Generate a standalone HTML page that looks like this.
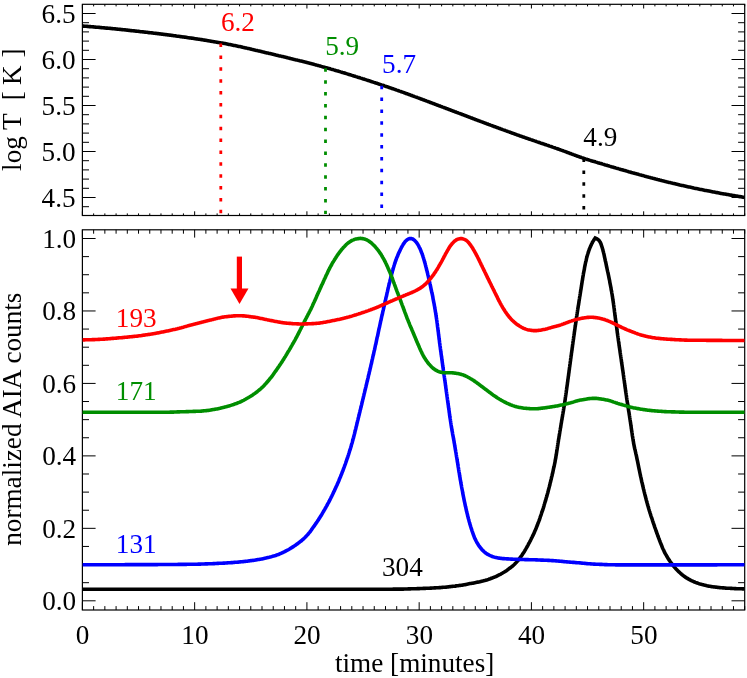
<!DOCTYPE html>
<html><head><meta charset="utf-8"><title>AIA light curves</title>
<style>
html,body{margin:0;padding:0;background:#fff;overflow:hidden;}
svg{display:block;font-family:"Liberation Serif",serif;font-size:27.2px;}
</style></head>
<body>
<svg width="747" height="678" viewBox="0 0 747 678">
<rect width="747" height="678" fill="#fff"/>
<rect x="82.4" y="4.3" width="662.3" height="211.2" fill="none" stroke="#000" stroke-width="1.2"/>
<rect x="82.4" y="229.8" width="662.3" height="380.2" fill="none" stroke="#000" stroke-width="1.2"/>
<path d="M82.40,215.5 v-4.2 M82.40,4.3 v4.2 M82.40,610.0 v-7.8 M82.40,229.8 v7.8 M93.63,215.5 v-2.1 M93.63,4.3 v2.1 M93.63,610.0 v-3.9 M93.63,229.8 v3.9 M104.85,215.5 v-2.1 M104.85,4.3 v2.1 M104.85,610.0 v-3.9 M104.85,229.8 v3.9 M116.08,215.5 v-2.1 M116.08,4.3 v2.1 M116.08,610.0 v-3.9 M116.08,229.8 v3.9 M127.30,215.5 v-2.1 M127.30,4.3 v2.1 M127.30,610.0 v-3.9 M127.30,229.8 v3.9 M138.53,215.5 v-2.1 M138.53,4.3 v2.1 M138.53,610.0 v-3.9 M138.53,229.8 v3.9 M149.75,215.5 v-2.1 M149.75,4.3 v2.1 M149.75,610.0 v-3.9 M149.75,229.8 v3.9 M160.98,215.5 v-2.1 M160.98,4.3 v2.1 M160.98,610.0 v-3.9 M160.98,229.8 v3.9 M172.20,215.5 v-2.1 M172.20,4.3 v2.1 M172.20,610.0 v-3.9 M172.20,229.8 v3.9 M183.43,215.5 v-2.1 M183.43,4.3 v2.1 M183.43,610.0 v-3.9 M183.43,229.8 v3.9 M194.65,215.5 v-4.2 M194.65,4.3 v4.2 M194.65,610.0 v-7.8 M194.65,229.8 v7.8 M205.88,215.5 v-2.1 M205.88,4.3 v2.1 M205.88,610.0 v-3.9 M205.88,229.8 v3.9 M217.11,215.5 v-2.1 M217.11,4.3 v2.1 M217.11,610.0 v-3.9 M217.11,229.8 v3.9 M228.33,215.5 v-2.1 M228.33,4.3 v2.1 M228.33,610.0 v-3.9 M228.33,229.8 v3.9 M239.56,215.5 v-2.1 M239.56,4.3 v2.1 M239.56,610.0 v-3.9 M239.56,229.8 v3.9 M250.78,215.5 v-2.1 M250.78,4.3 v2.1 M250.78,610.0 v-3.9 M250.78,229.8 v3.9 M262.01,215.5 v-2.1 M262.01,4.3 v2.1 M262.01,610.0 v-3.9 M262.01,229.8 v3.9 M273.23,215.5 v-2.1 M273.23,4.3 v2.1 M273.23,610.0 v-3.9 M273.23,229.8 v3.9 M284.46,215.5 v-2.1 M284.46,4.3 v2.1 M284.46,610.0 v-3.9 M284.46,229.8 v3.9 M295.68,215.5 v-2.1 M295.68,4.3 v2.1 M295.68,610.0 v-3.9 M295.68,229.8 v3.9 M306.91,215.5 v-4.2 M306.91,4.3 v4.2 M306.91,610.0 v-7.8 M306.91,229.8 v7.8 M318.13,215.5 v-2.1 M318.13,4.3 v2.1 M318.13,610.0 v-3.9 M318.13,229.8 v3.9 M329.36,215.5 v-2.1 M329.36,4.3 v2.1 M329.36,610.0 v-3.9 M329.36,229.8 v3.9 M340.58,215.5 v-2.1 M340.58,4.3 v2.1 M340.58,610.0 v-3.9 M340.58,229.8 v3.9 M351.81,215.5 v-2.1 M351.81,4.3 v2.1 M351.81,610.0 v-3.9 M351.81,229.8 v3.9 M363.04,215.5 v-2.1 M363.04,4.3 v2.1 M363.04,610.0 v-3.9 M363.04,229.8 v3.9 M374.26,215.5 v-2.1 M374.26,4.3 v2.1 M374.26,610.0 v-3.9 M374.26,229.8 v3.9 M385.49,215.5 v-2.1 M385.49,4.3 v2.1 M385.49,610.0 v-3.9 M385.49,229.8 v3.9 M396.71,215.5 v-2.1 M396.71,4.3 v2.1 M396.71,610.0 v-3.9 M396.71,229.8 v3.9 M407.94,215.5 v-2.1 M407.94,4.3 v2.1 M407.94,610.0 v-3.9 M407.94,229.8 v3.9 M419.16,215.5 v-4.2 M419.16,4.3 v4.2 M419.16,610.0 v-7.8 M419.16,229.8 v7.8 M430.39,215.5 v-2.1 M430.39,4.3 v2.1 M430.39,610.0 v-3.9 M430.39,229.8 v3.9 M441.61,215.5 v-2.1 M441.61,4.3 v2.1 M441.61,610.0 v-3.9 M441.61,229.8 v3.9 M452.84,215.5 v-2.1 M452.84,4.3 v2.1 M452.84,610.0 v-3.9 M452.84,229.8 v3.9 M464.06,215.5 v-2.1 M464.06,4.3 v2.1 M464.06,610.0 v-3.9 M464.06,229.8 v3.9 M475.29,215.5 v-2.1 M475.29,4.3 v2.1 M475.29,610.0 v-3.9 M475.29,229.8 v3.9 M486.52,215.5 v-2.1 M486.52,4.3 v2.1 M486.52,610.0 v-3.9 M486.52,229.8 v3.9 M497.74,215.5 v-2.1 M497.74,4.3 v2.1 M497.74,610.0 v-3.9 M497.74,229.8 v3.9 M508.97,215.5 v-2.1 M508.97,4.3 v2.1 M508.97,610.0 v-3.9 M508.97,229.8 v3.9 M520.19,215.5 v-2.1 M520.19,4.3 v2.1 M520.19,610.0 v-3.9 M520.19,229.8 v3.9 M531.42,215.5 v-4.2 M531.42,4.3 v4.2 M531.42,610.0 v-7.8 M531.42,229.8 v7.8 M542.64,215.5 v-2.1 M542.64,4.3 v2.1 M542.64,610.0 v-3.9 M542.64,229.8 v3.9 M553.87,215.5 v-2.1 M553.87,4.3 v2.1 M553.87,610.0 v-3.9 M553.87,229.8 v3.9 M565.09,215.5 v-2.1 M565.09,4.3 v2.1 M565.09,610.0 v-3.9 M565.09,229.8 v3.9 M576.32,215.5 v-2.1 M576.32,4.3 v2.1 M576.32,610.0 v-3.9 M576.32,229.8 v3.9 M587.54,215.5 v-2.1 M587.54,4.3 v2.1 M587.54,610.0 v-3.9 M587.54,229.8 v3.9 M598.77,215.5 v-2.1 M598.77,4.3 v2.1 M598.77,610.0 v-3.9 M598.77,229.8 v3.9 M609.99,215.5 v-2.1 M609.99,4.3 v2.1 M609.99,610.0 v-3.9 M609.99,229.8 v3.9 M621.22,215.5 v-2.1 M621.22,4.3 v2.1 M621.22,610.0 v-3.9 M621.22,229.8 v3.9 M632.45,215.5 v-2.1 M632.45,4.3 v2.1 M632.45,610.0 v-3.9 M632.45,229.8 v3.9 M643.67,215.5 v-4.2 M643.67,4.3 v4.2 M643.67,610.0 v-7.8 M643.67,229.8 v7.8 M654.90,215.5 v-2.1 M654.90,4.3 v2.1 M654.90,610.0 v-3.9 M654.90,229.8 v3.9 M666.12,215.5 v-2.1 M666.12,4.3 v2.1 M666.12,610.0 v-3.9 M666.12,229.8 v3.9 M677.35,215.5 v-2.1 M677.35,4.3 v2.1 M677.35,610.0 v-3.9 M677.35,229.8 v3.9 M688.57,215.5 v-2.1 M688.57,4.3 v2.1 M688.57,610.0 v-3.9 M688.57,229.8 v3.9 M699.80,215.5 v-2.1 M699.80,4.3 v2.1 M699.80,610.0 v-3.9 M699.80,229.8 v3.9 M711.02,215.5 v-2.1 M711.02,4.3 v2.1 M711.02,610.0 v-3.9 M711.02,229.8 v3.9 M722.25,215.5 v-2.1 M722.25,4.3 v2.1 M722.25,610.0 v-3.9 M722.25,229.8 v3.9 M733.47,215.5 v-2.1 M733.47,4.3 v2.1 M733.47,610.0 v-3.9 M733.47,229.8 v3.9 M744.70,215.5 v-2.1 M744.70,4.3 v2.1 M744.70,610.0 v-3.9 M744.70,229.8 v3.9 M82.4,206.70 h6.6 M744.7,206.70 h-6.6 M82.4,197.50 h13.2 M744.7,197.50 h-13.2 M82.4,188.30 h6.6 M744.7,188.30 h-6.6 M82.4,179.10 h6.6 M744.7,179.10 h-6.6 M82.4,169.90 h6.6 M744.7,169.90 h-6.6 M82.4,160.70 h6.6 M744.7,160.70 h-6.6 M82.4,151.50 h13.2 M744.7,151.50 h-13.2 M82.4,142.30 h6.6 M744.7,142.30 h-6.6 M82.4,133.10 h6.6 M744.7,133.10 h-6.6 M82.4,123.90 h6.6 M744.7,123.90 h-6.6 M82.4,114.70 h6.6 M744.7,114.70 h-6.6 M82.4,105.50 h13.2 M744.7,105.50 h-13.2 M82.4,96.30 h6.6 M744.7,96.30 h-6.6 M82.4,87.10 h6.6 M744.7,87.10 h-6.6 M82.4,77.90 h6.6 M744.7,77.90 h-6.6 M82.4,68.70 h6.6 M744.7,68.70 h-6.6 M82.4,59.50 h13.2 M744.7,59.50 h-13.2 M82.4,50.30 h6.6 M744.7,50.30 h-6.6 M82.4,41.10 h6.6 M744.7,41.10 h-6.6 M82.4,31.90 h6.6 M744.7,31.90 h-6.6 M82.4,22.70 h6.6 M744.7,22.70 h-6.6 M82.4,13.50 h13.2 M744.7,13.50 h-13.2 M82.4,600.80 h13.2 M744.7,600.80 h-13.2 M82.4,582.68 h6.6 M744.7,582.68 h-6.6 M82.4,564.57 h6.6 M744.7,564.57 h-6.6 M82.4,546.45 h6.6 M744.7,546.45 h-6.6 M82.4,528.34 h13.2 M744.7,528.34 h-13.2 M82.4,510.22 h6.6 M744.7,510.22 h-6.6 M82.4,492.11 h6.6 M744.7,492.11 h-6.6 M82.4,473.99 h6.6 M744.7,473.99 h-6.6 M82.4,455.88 h13.2 M744.7,455.88 h-13.2 M82.4,437.76 h6.6 M744.7,437.76 h-6.6 M82.4,419.65 h6.6 M744.7,419.65 h-6.6 M82.4,401.53 h6.6 M744.7,401.53 h-6.6 M82.4,383.42 h13.2 M744.7,383.42 h-13.2 M82.4,365.30 h6.6 M744.7,365.30 h-6.6 M82.4,347.19 h6.6 M744.7,347.19 h-6.6 M82.4,329.07 h6.6 M744.7,329.07 h-6.6 M82.4,310.96 h13.2 M744.7,310.96 h-13.2 M82.4,292.84 h6.6 M744.7,292.84 h-6.6 M82.4,274.73 h6.6 M744.7,274.73 h-6.6 M82.4,256.61 h6.6 M744.7,256.61 h-6.6 M82.4,238.50 h13.2 M744.7,238.50 h-13.2" fill="none" stroke="#000" stroke-width="1"/>
<clipPath id="ct"><rect x="82.4" y="4.3" width="662.3" height="211.2"/></clipPath>
<clipPath id="cb"><rect x="82.4" y="229.8" width="662.3" height="380.2"/></clipPath>
<g clip-path="url(#ct)"><path d="M82.3,26.0 L83.7,26.1 L84.5,26.2 L85.3,26.2 L86.3,26.3 L87.3,26.4 L88.3,26.5 L89.3,26.6 L90.3,26.6 L91.3,26.7 L92.3,26.8 L93.3,26.9 L94.3,27.0 L95.3,27.1 L96.3,27.2 L97.3,27.2 L98.2,27.3 L99.2,27.4 L100.2,27.5 L101.2,27.6 L102.2,27.7 L103.2,27.8 L104.2,27.9 L105.2,28.0 L106.2,28.1 L107.2,28.1 L108.2,28.2 L109.2,28.3 L110.2,28.4 L111.2,28.5 L112.2,28.6 L113.2,28.7 L114.2,28.8 L115.2,28.9 L116.2,29.0 L117.2,29.1 L118.2,29.2 L119.1,29.3 L120.1,29.4 L121.1,29.5 L122.1,29.6 L123.1,29.7 L124.1,29.8 L125.1,29.9 L126.1,30.0 L127.1,30.1 L128.1,30.3 L129.1,30.4 L130.1,30.5 L131.1,30.6 L132.1,30.7 L133.1,30.8 L134.1,30.9 L135.1,31.0 L136.0,31.1 L137.0,31.2 L138.0,31.3 L139.0,31.4 L140.0,31.6 L141.0,31.7 L142.0,31.8 L143.0,31.9 L144.0,32.0 L145.0,32.1 L146.0,32.2 L147.0,32.3 L148.0,32.5 L148.9,32.6 L149.9,32.7 L150.9,32.8 L151.9,32.9 L152.9,33.0 L153.9,33.2 L154.9,33.3 L155.9,33.4 L156.9,33.5 L157.9,33.6 L158.9,33.8 L159.9,33.9 L160.9,34.0 L161.8,34.1 L162.8,34.3 L163.8,34.4 L164.8,34.5 L165.8,34.6 L166.8,34.8 L167.8,34.9 L168.8,35.0 L169.8,35.1 L170.8,35.3 L171.8,35.4 L172.8,35.5 L173.8,35.7 L174.7,35.8 L175.7,35.9 L176.7,36.1 L177.7,36.2 L178.7,36.3 L179.7,36.5 L180.7,36.6 L181.7,36.7 L182.7,36.9 L183.7,37.0 L184.7,37.1 L185.6,37.3 L186.6,37.4 L187.6,37.6 L188.6,37.7 L189.6,37.9 L190.6,38.0 L191.6,38.1 L192.6,38.3 L193.6,38.4 L194.6,38.6 L195.5,38.7 L196.5,38.9 L197.5,39.0 L198.5,39.2 L199.5,39.3 L200.5,39.5 L201.5,39.6 L202.5,39.8 L203.5,40.0 L204.4,40.1 L205.4,40.3 L206.4,40.4 L207.4,40.6 L208.4,40.7 L209.4,40.9 L210.4,41.1 L211.3,41.2 L212.3,41.4 L213.3,41.6 L214.3,41.7 L215.3,41.9 L216.3,42.1 L217.3,42.2 L218.2,42.4 L219.2,42.6 L220.2,42.7 L221.2,42.9 L222.2,43.1 L223.1,43.3 L224.1,43.4 L225.1,43.6 L226.1,43.8 L227.1,44.0 L228.1,44.2 L229.0,44.4 L230.0,44.6 L231.0,44.8 L232.0,45.0 L232.9,45.2 L233.9,45.4 L234.9,45.6 L235.9,45.8 L236.9,46.0 L237.8,46.2 L238.8,46.4 L239.8,46.6 L240.8,46.8 L241.7,47.0 L242.7,47.3 L243.7,47.5 L244.7,47.7 L245.7,47.9 L246.6,48.1 L247.6,48.4 L248.6,48.6 L249.6,48.8 L250.5,49.0 L251.5,49.3 L252.5,49.5 L253.5,49.7 L254.4,49.9 L255.4,50.2 L256.4,50.4 L257.4,50.6 L258.3,50.9 L259.3,51.1 L260.3,51.3 L261.2,51.5 L262.2,51.8 L263.2,52.0 L264.2,52.2 L265.1,52.5 L266.1,52.7 L267.1,52.9 L268.1,53.1 L269.0,53.4 L270.0,53.6 L271.0,53.8 L272.0,54.1 L272.9,54.3 L273.9,54.5 L274.9,54.7 L275.8,55.0 L276.8,55.2 L277.8,55.4 L278.8,55.7 L279.7,55.9 L280.7,56.1 L281.7,56.4 L282.7,56.6 L283.6,56.8 L284.6,57.1 L285.6,57.3 L286.5,57.5 L287.5,57.8 L288.5,58.0 L289.5,58.2 L290.4,58.5 L291.4,58.7 L292.4,58.9 L293.3,59.2 L294.3,59.4 L295.3,59.7 L296.3,59.9 L297.2,60.1 L298.2,60.4 L299.2,60.6 L300.1,60.9 L301.1,61.1 L302.1,61.3 L303.0,61.6 L304.0,61.8 L305.0,62.1 L306.0,62.3 L306.9,62.6 L307.9,62.8 L308.9,63.1 L309.8,63.3 L310.8,63.6 L311.8,63.8 L312.7,64.1 L313.7,64.3 L314.7,64.6 L315.6,64.9 L316.6,65.1 L317.6,65.4 L318.5,65.6 L319.5,65.9 L320.5,66.1 L321.4,66.4 L322.4,66.7 L323.3,66.9 L324.3,67.2 L325.3,67.5 L326.2,67.7 L327.2,68.0 L328.2,68.3 L329.1,68.5 L330.1,68.8 L331.0,69.1 L332.0,69.4 L333.0,69.6 L333.9,69.9 L334.9,70.2 L335.8,70.5 L336.8,70.8 L337.8,71.0 L338.7,71.3 L339.7,71.6 L340.6,71.9 L341.6,72.2 L342.6,72.5 L343.5,72.7 L344.5,73.0 L345.4,73.3 L346.4,73.6 L347.3,73.9 L348.3,74.2 L349.2,74.5 L350.2,74.8 L351.2,75.1 L352.1,75.4 L353.1,75.7 L354.0,76.0 L355.0,76.3 L355.9,76.6 L356.9,76.9 L357.8,77.2 L358.8,77.5 L359.8,77.8 L360.7,78.1 L361.7,78.4 L362.6,78.7 L363.6,79.0 L364.5,79.3 L365.5,79.6 L366.4,79.9 L367.4,80.2 L368.3,80.5 L369.3,80.8 L370.2,81.1 L371.2,81.5 L372.1,81.8 L373.1,82.1 L374.0,82.4 L375.0,82.7 L375.9,83.0 L376.9,83.3 L377.8,83.6 L378.8,84.0 L379.7,84.3 L380.7,84.6 L381.6,84.9 L382.6,85.2 L383.5,85.5 L384.4,85.9 L385.4,86.2 L386.3,86.5 L387.3,86.8 L388.2,87.1 L389.2,87.5 L390.1,87.8 L391.1,88.1 L392.0,88.5 L393.0,88.8 L393.9,89.1 L394.8,89.4 L395.8,89.8 L396.7,90.1 L397.7,90.4 L398.6,90.8 L399.5,91.1 L400.5,91.4 L401.4,91.8 L402.4,92.1 L403.3,92.4 L404.3,92.8 L405.2,93.1 L406.1,93.5 L407.1,93.8 L408.0,94.1 L409.0,94.5 L409.9,94.8 L410.8,95.2 L411.8,95.5 L412.7,95.9 L413.6,96.2 L414.6,96.6 L415.5,96.9 L416.5,97.2 L417.4,97.6 L418.3,97.9 L419.3,98.3 L420.2,98.6 L421.1,99.0 L422.1,99.3 L423.0,99.7 L424.0,100.0 L424.9,100.4 L425.8,100.7 L426.8,101.1 L427.7,101.4 L428.6,101.8 L429.6,102.1 L430.5,102.5 L431.4,102.8 L432.4,103.2 L433.3,103.5 L434.3,103.9 L435.2,104.3 L436.1,104.6 L437.1,105.0 L438.0,105.3 L438.9,105.7 L439.9,106.0 L440.8,106.4 L441.7,106.7 L442.7,107.1 L443.6,107.4 L444.5,107.8 L445.5,108.1 L446.4,108.5 L447.4,108.8 L448.3,109.2 L449.2,109.5 L450.2,109.9 L451.1,110.3 L452.0,110.6 L453.0,111.0 L453.9,111.3 L454.8,111.7 L455.8,112.0 L456.7,112.4 L457.6,112.7 L458.6,113.1 L459.5,113.4 L460.5,113.8 L461.4,114.1 L462.3,114.5 L463.3,114.8 L464.2,115.2 L465.1,115.5 L466.1,115.9 L467.0,116.3 L467.9,116.6 L468.9,117.0 L469.8,117.3 L470.7,117.7 L471.7,118.0 L472.6,118.4 L473.5,118.8 L474.5,119.1 L475.4,119.5 L476.3,119.8 L477.3,120.2 L478.2,120.5 L479.1,120.9 L480.1,121.2 L481.0,121.6 L482.0,121.9 L482.9,122.3 L483.8,122.6 L484.8,123.0 L485.7,123.3 L486.6,123.7 L487.6,124.0 L488.5,124.4 L489.4,124.7 L490.4,125.1 L491.3,125.4 L492.3,125.8 L493.2,126.1 L494.1,126.5 L495.1,126.8 L496.0,127.1 L496.9,127.5 L497.9,127.8 L498.8,128.2 L499.8,128.5 L500.7,128.9 L501.6,129.2 L502.6,129.6 L503.5,129.9 L504.5,130.2 L505.4,130.6 L506.3,130.9 L507.3,131.3 L508.2,131.6 L509.2,131.9 L510.1,132.3 L511.0,132.6 L512.0,133.0 L512.9,133.3 L513.9,133.6 L514.8,134.0 L515.7,134.3 L516.7,134.7 L517.6,135.0 L518.6,135.3 L519.5,135.7 L520.4,136.0 L521.4,136.3 L522.3,136.7 L523.3,137.0 L524.2,137.3 L525.2,137.7 L526.1,138.0 L527.0,138.3 L528.0,138.6 L528.9,139.0 L529.9,139.3 L530.8,139.6 L531.8,139.9 L532.7,140.3 L533.7,140.6 L534.6,140.9 L535.6,141.2 L536.5,141.6 L537.4,141.9 L538.4,142.2 L539.3,142.5 L540.3,142.9 L541.2,143.2 L542.2,143.5 L543.1,143.8 L544.1,144.1 L545.0,144.5 L546.0,144.8 L546.9,145.1 L547.9,145.4 L548.8,145.8 L549.7,146.1 L550.7,146.4 L551.6,146.7 L552.6,147.1 L553.5,147.4 L554.5,147.7 L555.4,148.1 L556.4,148.4 L557.3,148.7 L558.2,149.0 L559.2,149.4 L560.1,149.7 L561.1,150.1 L562.0,150.4 L562.9,150.7 L563.9,151.1 L564.8,151.4 L565.8,151.8 L566.7,152.1 L567.6,152.5 L568.6,152.8 L569.5,153.2 L570.4,153.5 L571.4,153.9 L572.3,154.2 L573.2,154.6 L574.2,154.9 L575.1,155.3 L576.1,155.6 L577.0,156.0 L577.9,156.3 L578.9,156.6 L579.8,157.0 L580.8,157.3 L581.7,157.6 L582.7,157.9 L583.6,158.3 L584.6,158.6 L585.5,158.9 L586.5,159.2 L587.4,159.5 L588.4,159.8 L589.3,160.1 L590.3,160.4 L591.2,160.7 L592.2,161.0 L593.1,161.3 L594.1,161.5 L595.1,161.8 L596.0,162.1 L597.0,162.4 L597.9,162.7 L598.9,163.0 L599.8,163.3 L600.8,163.5 L601.8,163.8 L602.7,164.1 L603.7,164.4 L604.6,164.7 L605.6,165.0 L606.6,165.2 L607.5,165.5 L608.5,165.8 L609.4,166.1 L610.4,166.4 L611.3,166.7 L612.3,166.9 L613.3,167.2 L614.2,167.5 L615.2,167.8 L616.1,168.1 L617.1,168.4 L618.1,168.6 L619.0,168.9 L620.0,169.2 L620.9,169.5 L621.9,169.7 L622.9,170.0 L623.8,170.3 L624.8,170.6 L625.7,170.8 L626.7,171.1 L627.7,171.4 L628.6,171.7 L629.6,171.9 L630.6,172.2 L631.5,172.5 L632.5,172.8 L633.4,173.0 L634.4,173.3 L635.4,173.6 L636.3,173.8 L637.3,174.1 L638.3,174.3 L639.2,174.6 L640.2,174.9 L641.2,175.1 L642.1,175.4 L643.1,175.6 L644.1,175.9 L645.0,176.2 L646.0,176.4 L647.0,176.7 L647.9,176.9 L648.9,177.2 L649.9,177.4 L650.8,177.7 L651.8,177.9 L652.8,178.2 L653.7,178.4 L654.7,178.7 L655.7,179.0 L656.6,179.2 L657.6,179.5 L658.6,179.7 L659.5,180.0 L660.5,180.2 L661.5,180.5 L662.4,180.7 L663.4,180.9 L664.4,181.2 L665.3,181.4 L666.3,181.7 L667.3,181.9 L668.3,182.2 L669.2,182.4 L670.2,182.6 L671.2,182.9 L672.1,183.1 L673.1,183.4 L674.1,183.6 L675.1,183.8 L676.0,184.1 L677.0,184.3 L678.0,184.5 L678.9,184.7 L679.9,185.0 L680.9,185.2 L681.9,185.4 L682.8,185.6 L683.8,185.8 L684.8,186.1 L685.8,186.3 L686.7,186.5 L687.7,186.7 L688.7,186.9 L689.7,187.1 L690.6,187.3 L691.6,187.5 L692.6,187.7 L693.6,188.0 L694.6,188.2 L695.5,188.4 L696.5,188.6 L697.5,188.8 L698.5,189.0 L699.4,189.2 L700.4,189.4 L701.4,189.6 L702.4,189.8 L703.4,190.0 L704.3,190.2 L705.3,190.4 L706.3,190.6 L707.3,190.8 L708.3,190.9 L709.2,191.1 L710.2,191.3 L711.2,191.5 L712.2,191.7 L713.2,191.9 L714.2,192.1 L715.1,192.3 L716.1,192.5 L717.1,192.6 L718.1,192.8 L719.1,193.0 L720.0,193.2 L721.0,193.4 L722.0,193.6 L723.0,193.7 L724.0,193.9 L725.0,194.1 L725.9,194.3 L726.9,194.4 L727.9,194.6 L728.9,194.8 L729.9,195.0 L730.9,195.1 L731.9,195.3 L732.8,195.5 L733.8,195.6 L734.8,195.8 L735.8,196.0 L736.8,196.1 L737.8,196.3 L738.8,196.5 L739.8,196.6 L740.7,196.8 L741.7,196.9 L742.6,197.1 L743.3,197.2 L744.7,197.4" fill="none" stroke="#000" stroke-width="3.6" stroke-linejoin="round"/></g>
<path d="M220.8,43.5 V214.0" stroke="#ff0000" stroke-width="2.8" stroke-dasharray="3.5 8.38" fill="none"/>
<path d="M325.5,68.3 V214.0" stroke="#008e00" stroke-width="2.8" stroke-dasharray="3.5 8.38" fill="none"/>
<path d="M381.7,85.7 V214.0" stroke="#0000ff" stroke-width="2.8" stroke-dasharray="3.5 8.38" fill="none"/>
<path d="M583.8,158.5 V214.0" stroke="#000" stroke-width="2.8" stroke-dasharray="3.5 8.38" fill="none"/>
<g clip-path="url(#cb)" fill="none" stroke-linejoin="round" stroke-width="3.6">
<path d="M82.4,589.3 L83.8,589.3 L84.6,589.3 L85.5,589.3 L86.4,589.3 L87.4,589.3 L88.4,589.3 L89.4,589.3 L90.4,589.3 L91.4,589.3 L92.4,589.3 L93.4,589.3 L94.4,589.3 L95.4,589.3 L96.4,589.3 L97.4,589.3 L98.4,589.3 L99.4,589.3 L100.4,589.3 L101.4,589.3 L102.4,589.3 L103.4,589.3 L104.4,589.3 L105.4,589.3 L106.4,589.3 L107.4,589.3 L108.4,589.3 L109.4,589.3 L110.4,589.3 L111.4,589.3 L112.4,589.3 L113.4,589.3 L114.4,589.3 L115.4,589.3 L116.4,589.3 L117.4,589.3 L118.4,589.3 L119.4,589.3 L120.4,589.3 L121.4,589.3 L122.4,589.3 L123.4,589.3 L124.4,589.3 L125.4,589.3 L126.4,589.3 L127.4,589.3 L128.4,589.3 L129.4,589.3 L130.4,589.3 L131.4,589.3 L132.4,589.3 L133.4,589.3 L134.4,589.3 L135.4,589.3 L136.4,589.3 L137.4,589.3 L138.4,589.3 L139.4,589.3 L140.4,589.3 L141.4,589.3 L142.4,589.3 L143.4,589.3 L144.4,589.3 L145.4,589.3 L146.4,589.3 L147.4,589.3 L148.4,589.3 L149.4,589.3 L150.4,589.3 L151.4,589.3 L152.4,589.3 L153.4,589.3 L154.4,589.3 L155.4,589.3 L156.4,589.3 L157.4,589.3 L158.4,589.3 L159.4,589.3 L160.4,589.3 L161.4,589.3 L162.4,589.3 L163.4,589.3 L164.4,589.3 L165.4,589.3 L166.4,589.3 L167.4,589.3 L168.4,589.3 L169.4,589.3 L170.4,589.3 L171.4,589.3 L172.4,589.3 L173.4,589.3 L174.4,589.3 L175.4,589.3 L176.4,589.3 L177.4,589.3 L178.4,589.3 L179.4,589.3 L180.4,589.3 L181.4,589.3 L182.4,589.3 L183.4,589.3 L184.4,589.3 L185.4,589.3 L186.4,589.3 L187.4,589.3 L188.4,589.3 L189.4,589.3 L190.4,589.3 L191.4,589.3 L192.4,589.3 L193.4,589.3 L194.4,589.3 L195.4,589.3 L196.4,589.3 L197.4,589.3 L198.4,589.3 L199.4,589.3 L200.4,589.3 L201.4,589.3 L202.4,589.3 L203.4,589.3 L204.4,589.3 L205.4,589.3 L206.4,589.3 L207.4,589.3 L208.4,589.3 L209.4,589.3 L210.4,589.3 L211.4,589.3 L212.4,589.3 L213.4,589.3 L214.4,589.3 L215.4,589.3 L216.4,589.3 L217.4,589.3 L218.4,589.3 L219.4,589.3 L220.4,589.3 L221.4,589.3 L222.4,589.3 L223.4,589.3 L224.4,589.3 L225.4,589.3 L226.4,589.3 L227.4,589.3 L228.4,589.3 L229.4,589.3 L230.4,589.3 L231.4,589.3 L232.4,589.3 L233.4,589.3 L234.3,589.3 L235.3,589.3 L236.3,589.3 L237.3,589.3 L238.3,589.3 L239.3,589.3 L240.3,589.3 L241.3,589.3 L242.3,589.3 L243.3,589.3 L244.3,589.3 L245.3,589.3 L246.3,589.3 L247.3,589.3 L248.3,589.3 L249.3,589.3 L250.3,589.3 L251.3,589.3 L252.3,589.3 L253.3,589.3 L254.3,589.3 L255.3,589.3 L256.3,589.3 L257.3,589.3 L258.3,589.3 L259.3,589.3 L260.3,589.3 L261.3,589.3 L262.3,589.3 L263.3,589.3 L264.3,589.3 L265.3,589.3 L266.3,589.3 L267.3,589.3 L268.3,589.3 L269.3,589.3 L270.3,589.3 L271.3,589.3 L272.3,589.3 L273.3,589.3 L274.3,589.3 L275.3,589.3 L276.3,589.3 L277.3,589.3 L278.3,589.3 L279.3,589.3 L280.3,589.3 L281.3,589.3 L282.3,589.3 L283.3,589.3 L284.3,589.3 L285.3,589.3 L286.3,589.3 L287.3,589.3 L288.3,589.3 L289.3,589.3 L290.3,589.3 L291.3,589.3 L292.3,589.3 L293.3,589.3 L294.3,589.3 L295.3,589.3 L296.3,589.3 L297.3,589.3 L298.3,589.3 L299.3,589.3 L300.3,589.3 L301.3,589.3 L302.3,589.3 L303.3,589.3 L304.3,589.2 L305.3,589.2 L306.3,589.2 L307.3,589.2 L308.3,589.2 L309.3,589.2 L310.3,589.2 L311.3,589.2 L312.3,589.2 L313.3,589.2 L314.3,589.2 L315.3,589.2 L316.3,589.2 L317.3,589.2 L318.3,589.2 L319.3,589.2 L320.3,589.2 L321.3,589.2 L322.3,589.2 L323.3,589.2 L324.3,589.2 L325.3,589.2 L326.3,589.2 L327.3,589.2 L328.3,589.2 L329.3,589.2 L330.3,589.2 L331.3,589.2 L332.3,589.2 L333.3,589.2 L334.3,589.2 L335.3,589.2 L336.3,589.2 L337.3,589.2 L338.3,589.2 L339.3,589.2 L340.3,589.2 L341.3,589.2 L342.3,589.2 L343.3,589.2 L344.3,589.2 L345.3,589.2 L346.3,589.2 L347.3,589.2 L348.3,589.2 L349.3,589.2 L350.3,589.2 L351.3,589.2 L352.3,589.2 L353.3,589.2 L354.3,589.2 L355.3,589.2 L356.3,589.2 L357.3,589.2 L358.3,589.2 L359.3,589.2 L360.3,589.2 L361.3,589.2 L362.3,589.2 L363.3,589.2 L364.3,589.2 L365.3,589.2 L366.3,589.2 L367.3,589.2 L368.3,589.2 L369.3,589.2 L370.3,589.2 L371.3,589.2 L372.3,589.2 L373.3,589.2 L374.3,589.2 L375.3,589.2 L376.3,589.2 L377.3,589.2 L378.3,589.2 L379.3,589.2 L380.3,589.2 L381.3,589.2 L382.3,589.2 L383.3,589.2 L384.3,589.2 L385.3,589.2 L386.3,589.2 L387.3,589.2 L388.3,589.2 L389.3,589.2 L390.3,589.2 L391.3,589.2 L392.3,589.2 L393.3,589.1 L394.3,589.1 L395.3,589.1 L396.3,589.1 L397.3,589.1 L398.3,589.1 L399.3,589.1 L400.3,589.1 L401.3,589.1 L402.3,589.1 L403.3,589.1 L404.3,589.0 L405.3,589.0 L406.3,589.0 L407.3,589.0 L408.3,588.9 L409.3,588.9 L410.3,588.9 L411.3,588.8 L412.3,588.8 L413.3,588.8 L414.3,588.8 L415.3,588.7 L416.3,588.7 L417.3,588.6 L418.3,588.6 L419.3,588.6 L420.3,588.5 L421.3,588.5 L422.3,588.5 L423.3,588.4 L424.3,588.4 L425.3,588.4 L426.3,588.3 L427.3,588.3 L428.3,588.2 L429.3,588.2 L430.3,588.1 L431.3,588.1 L432.3,588.0 L433.3,588.0 L434.3,587.9 L435.3,587.9 L436.3,587.8 L437.3,587.8 L438.3,587.7 L439.3,587.6 L440.2,587.6 L441.2,587.5 L442.2,587.4 L443.2,587.3 L444.2,587.3 L445.2,587.2 L446.2,587.1 L447.2,587.0 L448.2,586.9 L449.2,586.8 L450.2,586.6 L451.2,586.5 L452.2,586.4 L453.2,586.3 L454.2,586.2 L455.2,586.1 L456.2,585.9 L457.2,585.8 L458.1,585.7 L459.1,585.5 L460.1,585.4 L461.1,585.2 L462.1,585.1 L463.1,584.9 L464.1,584.7 L465.0,584.6 L466.0,584.4 L467.0,584.2 L468.0,584.0 L469.0,583.8 L470.0,583.6 L470.9,583.4 L471.9,583.2 L472.9,583.1 L473.9,582.9 L474.9,582.7 L475.9,582.5 L476.8,582.3 L477.8,582.1 L478.8,582.0 L479.8,581.8 L480.8,581.5 L481.7,581.3 L482.7,581.1 L483.7,580.8 L484.6,580.6 L485.6,580.3 L486.5,580.0 L487.5,579.7 L488.4,579.4 L489.4,579.0 L490.3,578.7 L491.3,578.3 L492.2,578.0 L493.1,577.6 L494.1,577.2 L495.0,576.9 L495.9,576.5 L496.8,576.1 L497.7,575.6 L498.6,575.2 L499.5,574.7 L500.4,574.3 L501.3,573.8 L502.2,573.3 L503.0,572.8 L503.9,572.3 L504.7,571.8 L505.6,571.2 L506.4,570.7 L507.2,570.1 L508.0,569.5 L508.8,568.9 L509.6,568.3 L510.4,567.7 L511.2,567.1 L512.0,566.5 L512.8,565.9 L513.5,565.2 L514.3,564.5 L515.0,563.8 L515.7,563.1 L516.4,562.4 L517.0,561.7 L517.7,560.9 L518.3,560.1 L518.9,559.3 L519.5,558.5 L520.1,557.7 L520.7,556.9 L521.3,556.1 L521.9,555.3 L522.4,554.5 L523.0,553.6 L523.5,552.8 L524.1,551.9 L524.6,551.1 L525.1,550.2 L525.6,549.4 L526.1,548.5 L526.6,547.6 L527.1,546.8 L527.6,545.9 L528.1,545.0 L528.5,544.1 L529.0,543.2 L529.5,542.3 L529.9,541.5 L530.4,540.6 L530.8,539.7 L531.3,538.8 L531.7,537.9 L532.2,537.0 L532.6,536.1 L533.1,535.2 L533.5,534.3 L533.9,533.4 L534.3,532.5 L534.7,531.6 L535.1,530.6 L535.5,529.7 L535.9,528.8 L536.3,527.9 L536.6,526.9 L537.0,526.0 L537.4,525.1 L537.7,524.2 L538.1,523.2 L538.4,522.3 L538.8,521.3 L539.1,520.4 L539.5,519.5 L539.8,518.5 L540.1,517.6 L540.4,516.6 L540.8,515.7 L541.1,514.7 L541.4,513.8 L541.7,512.8 L542.0,511.9 L542.3,510.9 L542.7,510.0 L543.0,509.0 L543.3,508.1 L543.6,507.1 L543.9,506.2 L544.1,505.2 L544.4,504.3 L544.7,503.3 L545.0,502.3 L545.3,501.4 L545.6,500.4 L545.9,499.5 L546.1,498.5 L546.4,497.5 L546.7,496.6 L547.0,495.6 L547.2,494.7 L547.5,493.7 L547.8,492.7 L548.0,491.8 L548.3,490.8 L548.5,489.8 L548.8,488.9 L549.0,487.9 L549.3,486.9 L549.5,486.0 L549.8,485.0 L550.0,484.0 L550.2,483.0 L550.5,482.1 L550.7,481.1 L550.9,480.1 L551.2,479.2 L551.4,478.2 L551.6,477.2 L551.9,476.2 L552.1,475.3 L552.3,474.3 L552.6,473.3 L552.8,472.3 L553.0,471.4 L553.2,470.4 L553.4,469.4 L553.6,468.4 L553.8,467.5 L554.1,466.5 L554.3,465.5 L554.5,464.5 L554.7,463.5 L554.9,462.6 L555.1,461.6 L555.2,460.6 L555.4,459.6 L555.6,458.6 L555.8,457.7 L555.9,456.7 L556.1,455.7 L556.3,454.7 L556.4,453.7 L556.6,452.7 L556.7,451.7 L556.9,450.7 L557.0,449.8 L557.2,448.8 L557.3,447.8 L557.5,446.8 L557.6,445.8 L557.8,444.8 L557.9,443.8 L558.1,442.8 L558.2,441.9 L558.4,440.9 L558.5,439.9 L558.7,438.9 L558.9,437.9 L559.0,436.9 L559.2,435.9 L559.4,434.9 L559.5,434.0 L559.7,433.0 L559.8,432.0 L560.0,431.0 L560.2,430.0 L560.3,429.0 L560.5,428.0 L560.7,427.1 L560.8,426.1 L561.0,425.1 L561.1,424.1 L561.3,423.1 L561.5,422.1 L561.6,421.1 L561.8,420.2 L562.0,419.2 L562.1,418.2 L562.3,417.2 L562.5,416.2 L562.6,415.2 L562.8,414.2 L563.0,413.3 L563.1,412.3 L563.3,411.3 L563.5,410.3 L563.6,409.3 L563.8,408.3 L563.9,407.3 L564.1,406.3 L564.3,405.4 L564.4,404.4 L564.6,403.4 L564.7,402.4 L564.9,401.4 L565.0,400.4 L565.2,399.4 L565.3,398.4 L565.4,397.5 L565.6,396.5 L565.7,395.5 L565.9,394.5 L566.0,393.5 L566.2,392.5 L566.3,391.5 L566.4,390.5 L566.6,389.5 L566.7,388.5 L566.8,387.6 L567.0,386.6 L567.1,385.6 L567.3,384.6 L567.4,383.6 L567.5,382.6 L567.7,381.6 L567.8,380.6 L567.9,379.6 L568.1,378.6 L568.2,377.6 L568.3,376.7 L568.5,375.7 L568.6,374.7 L568.7,373.7 L568.9,372.7 L569.0,371.7 L569.1,370.7 L569.3,369.7 L569.4,368.7 L569.5,367.7 L569.7,366.8 L569.8,365.8 L569.9,364.8 L570.1,363.8 L570.2,362.8 L570.3,361.8 L570.5,360.8 L570.6,359.8 L570.7,358.8 L570.9,357.8 L571.0,356.8 L571.1,355.9 L571.3,354.9 L571.4,353.9 L571.5,352.9 L571.7,351.9 L571.8,350.9 L572.0,349.9 L572.1,348.9 L572.2,347.9 L572.4,346.9 L572.5,345.9 L572.6,345.0 L572.8,344.0 L572.9,343.0 L573.0,342.0 L573.2,341.0 L573.3,340.0 L573.5,339.0 L573.6,338.0 L573.7,337.0 L573.9,336.0 L574.0,335.1 L574.2,334.1 L574.3,333.1 L574.4,332.1 L574.6,331.1 L574.7,330.1 L574.9,329.1 L575.0,328.1 L575.1,327.1 L575.3,326.1 L575.4,325.2 L575.6,324.2 L575.7,323.2 L575.9,322.2 L576.0,321.2 L576.2,320.2 L576.3,319.2 L576.4,318.2 L576.6,317.2 L576.7,316.3 L576.9,315.3 L577.0,314.3 L577.2,313.3 L577.3,312.3 L577.5,311.3 L577.6,310.3 L577.8,309.3 L577.9,308.4 L578.1,307.4 L578.2,306.4 L578.4,305.4 L578.6,304.4 L578.7,303.4 L578.9,302.4 L579.0,301.4 L579.2,300.5 L579.3,299.5 L579.5,298.5 L579.6,297.5 L579.8,296.5 L580.0,295.5 L580.1,294.5 L580.3,293.5 L580.4,292.6 L580.6,291.6 L580.7,290.6 L580.9,289.6 L581.1,288.6 L581.2,287.6 L581.4,286.6 L581.5,285.6 L581.7,284.7 L581.8,283.7 L582.0,282.7 L582.1,281.7 L582.3,280.7 L582.5,279.7 L582.6,278.7 L582.8,277.7 L582.9,276.8 L583.1,275.8 L583.3,274.8 L583.4,273.8 L583.6,272.8 L583.8,271.8 L584.0,270.8 L584.2,269.9 L584.4,268.9 L584.5,267.9 L584.7,266.9 L584.9,265.9 L585.1,265.0 L585.3,264.0 L585.5,263.0 L585.7,262.0 L586.0,261.0 L586.2,260.1 L586.4,259.1 L586.6,258.1 L586.9,257.1 L587.1,256.2 L587.4,255.2 L587.7,254.3 L588.0,253.3 L588.3,252.4 L588.6,251.4 L588.9,250.5 L589.3,249.5 L589.6,248.6 L590.0,247.6 L590.4,246.7 L590.8,245.8 L591.2,244.9 L591.6,244.0 L592.1,243.1 L592.5,242.2 L593.0,241.4 L593.5,240.6 L594.0,239.8 L594.4,239.2 L595.2,238.0 L596.5,238.6 L597.2,239.0 L597.9,239.5 L598.6,240.0 L599.2,240.7 L599.7,241.4 L600.2,242.2 L600.6,243.1 L601.0,244.0 L601.3,245.0 L601.7,246.0 L602.0,247.0 L602.3,248.0 L602.6,249.0 L602.9,250.0 L603.1,251.0 L603.4,251.9 L603.6,252.9 L603.9,253.9 L604.1,254.8 L604.3,255.8 L604.5,256.8 L604.7,257.8 L604.9,258.7 L605.1,259.7 L605.3,260.7 L605.6,261.7 L605.8,262.7 L606.0,263.6 L606.2,264.6 L606.4,265.6 L606.6,266.6 L606.8,267.5 L607.0,268.5 L607.2,269.5 L607.4,270.5 L607.6,271.4 L607.9,272.4 L608.1,273.4 L608.3,274.4 L608.5,275.4 L608.7,276.3 L608.9,277.3 L609.1,278.3 L609.3,279.3 L609.5,280.2 L609.7,281.2 L609.8,282.2 L610.0,283.2 L610.2,284.2 L610.4,285.1 L610.6,286.1 L610.8,287.1 L611.0,288.1 L611.1,289.1 L611.3,290.1 L611.5,291.0 L611.7,292.0 L611.8,293.0 L612.0,294.0 L612.2,295.0 L612.3,296.0 L612.5,296.9 L612.6,297.9 L612.8,298.9 L612.9,299.9 L613.1,300.9 L613.2,301.9 L613.4,302.9 L613.5,303.9 L613.6,304.8 L613.8,305.8 L613.9,306.8 L614.0,307.8 L614.2,308.8 L614.3,309.8 L614.4,310.8 L614.5,311.8 L614.7,312.8 L614.8,313.8 L614.9,314.7 L615.0,315.7 L615.2,316.7 L615.3,317.7 L615.4,318.7 L615.6,319.7 L615.7,320.7 L615.8,321.7 L616.0,322.7 L616.1,323.7 L616.2,324.6 L616.4,325.6 L616.5,326.6 L616.7,327.6 L616.8,328.6 L616.9,329.6 L617.1,330.6 L617.2,331.6 L617.3,332.6 L617.5,333.5 L617.6,334.5 L617.7,335.5 L617.9,336.5 L618.0,337.5 L618.2,338.5 L618.3,339.5 L618.4,340.5 L618.6,341.5 L618.7,342.4 L618.9,343.4 L619.0,344.4 L619.1,345.4 L619.3,346.4 L619.4,347.4 L619.6,348.4 L619.7,349.4 L619.9,350.3 L620.0,351.3 L620.1,352.3 L620.3,353.3 L620.4,354.3 L620.6,355.3 L620.7,356.3 L620.9,357.3 L621.0,358.3 L621.2,359.2 L621.3,360.2 L621.4,361.2 L621.6,362.2 L621.7,363.2 L621.9,364.2 L622.0,365.2 L622.2,366.2 L622.3,367.1 L622.4,368.1 L622.6,369.1 L622.7,370.1 L622.9,371.1 L623.0,372.1 L623.2,373.1 L623.3,374.1 L623.4,375.0 L623.6,376.0 L623.7,377.0 L623.8,378.0 L624.0,379.0 L624.1,380.0 L624.3,381.0 L624.4,382.0 L624.5,383.0 L624.7,383.9 L624.8,384.9 L624.9,385.9 L625.1,386.9 L625.2,387.9 L625.4,388.9 L625.5,389.9 L625.6,390.9 L625.8,391.9 L625.9,392.8 L626.1,393.8 L626.2,394.8 L626.4,395.8 L626.5,396.8 L626.6,397.8 L626.8,398.8 L626.9,399.8 L627.1,400.7 L627.2,401.7 L627.4,402.7 L627.6,403.7 L627.7,404.7 L627.9,405.7 L628.0,406.7 L628.2,407.6 L628.3,408.6 L628.5,409.6 L628.6,410.6 L628.8,411.6 L629.0,412.6 L629.1,413.6 L629.3,414.6 L629.4,415.5 L629.6,416.5 L629.7,417.5 L629.9,418.5 L630.0,419.5 L630.2,420.5 L630.3,421.5 L630.5,422.4 L630.6,423.4 L630.8,424.4 L630.9,425.4 L631.1,426.4 L631.2,427.4 L631.3,428.4 L631.5,429.4 L631.6,430.4 L631.8,431.3 L631.9,432.3 L632.1,433.3 L632.2,434.3 L632.3,435.3 L632.5,436.3 L632.7,437.3 L632.8,438.3 L633.0,439.2 L633.1,440.2 L633.3,441.2 L633.5,442.2 L633.6,443.2 L633.8,444.1 L634.0,445.1 L634.2,446.1 L634.4,447.1 L634.6,448.1 L634.8,449.0 L635.1,450.0 L635.3,451.0 L635.5,452.0 L635.7,452.9 L635.9,453.9 L636.2,454.9 L636.4,455.9 L636.6,456.8 L636.8,457.8 L637.0,458.8 L637.2,459.8 L637.4,460.7 L637.6,461.7 L637.8,462.7 L638.0,463.7 L638.2,464.6 L638.4,465.6 L638.6,466.6 L638.8,467.6 L639.0,468.6 L639.2,469.5 L639.4,470.5 L639.6,471.5 L639.8,472.5 L640.0,473.5 L640.2,474.4 L640.4,475.4 L640.6,476.4 L640.9,477.4 L641.1,478.3 L641.3,479.3 L641.5,480.3 L641.7,481.3 L641.9,482.2 L642.2,483.2 L642.4,484.2 L642.6,485.1 L642.8,486.1 L643.1,487.1 L643.3,488.1 L643.5,489.0 L643.8,490.0 L644.0,491.0 L644.2,491.9 L644.5,492.9 L644.7,493.9 L645.0,494.9 L645.2,495.8 L645.5,496.8 L645.7,497.8 L646.0,498.7 L646.2,499.7 L646.5,500.6 L646.7,501.6 L647.0,502.6 L647.3,503.5 L647.5,504.5 L647.8,505.5 L648.1,506.4 L648.4,507.4 L648.6,508.3 L648.9,509.3 L649.2,510.2 L649.5,511.2 L649.8,512.1 L650.1,513.1 L650.4,514.0 L650.7,515.0 L651.0,516.0 L651.3,516.9 L651.7,517.9 L652.0,518.8 L652.3,519.7 L652.6,520.7 L652.9,521.6 L653.2,522.6 L653.5,523.5 L653.9,524.5 L654.2,525.4 L654.5,526.4 L654.8,527.3 L655.2,528.3 L655.5,529.2 L655.8,530.1 L656.1,531.1 L656.5,532.0 L656.8,533.0 L657.2,533.9 L657.5,534.8 L657.8,535.8 L658.2,536.7 L658.5,537.7 L658.9,538.6 L659.2,539.5 L659.6,540.5 L660.0,541.4 L660.3,542.3 L660.7,543.3 L661.0,544.2 L661.4,545.1 L661.8,546.0 L662.2,547.0 L662.5,547.9 L662.9,548.8 L663.4,549.7 L663.8,550.6 L664.2,551.5 L664.6,552.4 L665.1,553.3 L665.6,554.2 L666.1,555.0 L666.6,555.9 L667.1,556.8 L667.6,557.6 L668.1,558.5 L668.7,559.3 L669.2,560.2 L669.8,561.0 L670.3,561.8 L670.9,562.6 L671.5,563.4 L672.1,564.2 L672.7,565.0 L673.3,565.8 L674.0,566.6 L674.6,567.3 L675.3,568.1 L675.9,568.8 L676.6,569.6 L677.3,570.3 L678.0,571.0 L678.7,571.7 L679.5,572.4 L680.2,573.0 L680.9,573.7 L681.7,574.4 L682.5,575.0 L683.3,575.6 L684.1,576.2 L684.9,576.8 L685.7,577.4 L686.5,577.9 L687.4,578.4 L688.2,578.9 L689.1,579.4 L690.0,579.9 L690.9,580.4 L691.8,580.8 L692.7,581.2 L693.6,581.6 L694.5,582.0 L695.4,582.4 L696.4,582.7 L697.3,583.0 L698.3,583.4 L699.2,583.7 L700.2,584.0 L701.1,584.2 L702.1,584.5 L703.1,584.7 L704.0,585.0 L705.0,585.2 L706.0,585.4 L706.9,585.7 L707.9,585.9 L708.9,586.1 L709.9,586.2 L710.9,586.4 L711.9,586.6 L712.8,586.7 L713.8,586.9 L714.8,587.0 L715.8,587.1 L716.8,587.3 L717.8,587.4 L718.8,587.5 L719.8,587.6 L720.8,587.7 L721.8,587.8 L722.8,587.9 L723.8,587.9 L724.8,588.0 L725.7,588.1 L726.7,588.2 L727.7,588.2 L728.7,588.3 L729.7,588.3 L730.7,588.4 L731.7,588.4 L732.7,588.5 L733.7,588.5 L734.7,588.6 L735.7,588.6 L736.7,588.7 L737.7,588.7 L738.7,588.8 L739.7,588.8 L740.7,588.8 L741.6,588.8 L742.5,588.9 L743.3,588.9 L744.7,588.9" stroke="#000" stroke-linejoin="miter" stroke-miterlimit="6"/>
<path d="M82.4,564.7 L83.8,564.7 L84.6,564.7 L85.5,564.7 L86.4,564.7 L87.4,564.7 L88.4,564.7 L89.4,564.7 L90.4,564.7 L91.4,564.7 L92.4,564.7 L93.4,564.7 L94.4,564.7 L95.4,564.7 L96.4,564.7 L97.4,564.7 L98.4,564.7 L99.4,564.7 L100.4,564.7 L101.4,564.7 L102.4,564.7 L103.4,564.7 L104.4,564.7 L105.4,564.7 L106.4,564.7 L107.4,564.7 L108.4,564.7 L109.4,564.7 L110.4,564.7 L111.4,564.7 L112.4,564.7 L113.4,564.7 L114.4,564.7 L115.4,564.7 L116.4,564.7 L117.4,564.7 L118.4,564.7 L119.4,564.7 L120.4,564.7 L121.4,564.7 L122.4,564.7 L123.4,564.7 L124.4,564.7 L125.4,564.6 L126.4,564.6 L127.4,564.6 L128.4,564.6 L129.4,564.6 L130.4,564.6 L131.4,564.6 L132.4,564.6 L133.4,564.6 L134.4,564.6 L135.4,564.6 L136.4,564.6 L137.4,564.6 L138.4,564.6 L139.4,564.6 L140.4,564.6 L141.4,564.6 L142.4,564.6 L143.4,564.6 L144.4,564.6 L145.4,564.6 L146.4,564.6 L147.4,564.6 L148.3,564.6 L149.3,564.6 L150.3,564.6 L151.3,564.6 L152.3,564.6 L153.3,564.6 L154.3,564.6 L155.3,564.6 L156.3,564.6 L157.3,564.6 L158.3,564.5 L159.3,564.5 L160.3,564.5 L161.3,564.5 L162.3,564.5 L163.3,564.5 L164.3,564.5 L165.3,564.5 L166.3,564.5 L167.3,564.5 L168.3,564.5 L169.3,564.5 L170.3,564.5 L171.3,564.5 L172.3,564.5 L173.3,564.5 L174.3,564.5 L175.3,564.5 L176.3,564.5 L177.3,564.5 L178.3,564.4 L179.3,564.4 L180.3,564.4 L181.3,564.4 L182.3,564.4 L183.3,564.4 L184.3,564.4 L185.3,564.4 L186.3,564.4 L187.3,564.3 L188.3,564.3 L189.3,564.3 L190.3,564.3 L191.3,564.3 L192.3,564.3 L193.3,564.2 L194.3,564.2 L195.3,564.2 L196.3,564.2 L197.3,564.2 L198.3,564.1 L199.3,564.1 L200.3,564.1 L201.3,564.0 L202.3,564.0 L203.3,564.0 L204.3,564.0 L205.3,563.9 L206.3,563.9 L207.3,563.9 L208.3,563.8 L209.3,563.8 L210.3,563.7 L211.3,563.7 L212.3,563.7 L213.3,563.6 L214.3,563.6 L215.3,563.5 L216.3,563.5 L217.3,563.4 L218.3,563.4 L219.3,563.3 L220.3,563.3 L221.3,563.2 L222.3,563.2 L223.3,563.1 L224.3,563.1 L225.3,563.0 L226.3,563.0 L227.3,562.9 L228.3,562.8 L229.3,562.8 L230.3,562.7 L231.2,562.6 L232.2,562.6 L233.2,562.5 L234.2,562.4 L235.2,562.3 L236.2,562.3 L237.2,562.2 L238.2,562.1 L239.2,562.0 L240.2,561.9 L241.2,561.8 L242.2,561.7 L243.2,561.6 L244.2,561.5 L245.2,561.4 L246.2,561.3 L247.2,561.2 L248.2,561.0 L249.2,560.9 L250.1,560.8 L251.1,560.6 L252.1,560.5 L253.1,560.4 L254.1,560.2 L255.1,560.1 L256.1,559.9 L257.1,559.8 L258.0,559.6 L259.0,559.4 L260.0,559.2 L261.0,559.1 L262.0,558.9 L263.0,558.7 L263.9,558.5 L264.9,558.3 L265.9,558.1 L266.9,557.8 L267.8,557.6 L268.8,557.4 L269.8,557.1 L270.8,556.9 L271.7,556.6 L272.7,556.3 L273.6,556.1 L274.6,555.8 L275.6,555.5 L276.5,555.1 L277.4,554.8 L278.4,554.5 L279.3,554.1 L280.2,553.7 L281.1,553.3 L282.0,552.9 L282.9,552.5 L283.8,552.0 L284.7,551.6 L285.6,551.1 L286.5,550.6 L287.4,550.2 L288.3,549.7 L289.1,549.2 L290.0,548.7 L290.8,548.1 L291.7,547.6 L292.5,547.1 L293.4,546.6 L294.2,546.0 L295.1,545.5 L295.9,544.9 L296.7,544.3 L297.5,543.7 L298.3,543.1 L299.1,542.5 L299.9,541.9 L300.7,541.3 L301.5,540.7 L302.2,540.0 L303.0,539.4 L303.7,538.7 L304.5,538.0 L305.2,537.3 L305.9,536.6 L306.5,535.9 L307.2,535.1 L307.9,534.4 L308.5,533.6 L309.1,532.9 L309.8,532.1 L310.4,531.3 L311.0,530.5 L311.6,529.7 L312.1,528.8 L312.7,528.0 L313.3,527.2 L313.9,526.4 L314.5,525.6 L315.0,524.8 L315.6,523.9 L316.2,523.1 L316.7,522.3 L317.3,521.5 L317.8,520.6 L318.4,519.8 L318.9,518.9 L319.5,518.1 L320.0,517.3 L320.5,516.4 L321.1,515.6 L321.6,514.7 L322.1,513.9 L322.6,513.0 L323.1,512.1 L323.6,511.3 L324.1,510.4 L324.6,509.6 L325.1,508.7 L325.6,507.8 L326.1,506.9 L326.6,506.1 L327.1,505.2 L327.5,504.3 L328.0,503.4 L328.5,502.6 L329.0,501.7 L329.4,500.8 L329.9,499.9 L330.3,499.0 L330.8,498.1 L331.2,497.2 L331.7,496.3 L332.1,495.4 L332.6,494.5 L333.0,493.6 L333.4,492.7 L333.8,491.8 L334.3,490.9 L334.7,490.0 L335.1,489.1 L335.5,488.2 L335.9,487.3 L336.3,486.4 L336.8,485.5 L337.2,484.5 L337.6,483.6 L338.0,482.7 L338.4,481.8 L338.8,480.9 L339.1,480.0 L339.5,479.0 L339.9,478.1 L340.3,477.2 L340.7,476.3 L341.0,475.3 L341.4,474.4 L341.8,473.5 L342.1,472.5 L342.5,471.6 L342.9,470.7 L343.2,469.7 L343.6,468.8 L343.9,467.9 L344.3,466.9 L344.6,466.0 L344.9,465.1 L345.3,464.1 L345.6,463.2 L345.9,462.2 L346.3,461.3 L346.6,460.3 L346.9,459.4 L347.2,458.5 L347.6,457.5 L347.9,456.6 L348.2,455.6 L348.5,454.7 L348.8,453.7 L349.1,452.8 L349.4,451.8 L349.7,450.8 L350.0,449.9 L350.3,448.9 L350.6,448.0 L350.9,447.0 L351.2,446.1 L351.4,445.1 L351.7,444.1 L352.0,443.2 L352.3,442.2 L352.5,441.3 L352.8,440.3 L353.0,439.3 L353.3,438.4 L353.6,437.4 L353.8,436.4 L354.1,435.5 L354.3,434.5 L354.6,433.5 L354.8,432.6 L355.0,431.6 L355.3,430.6 L355.5,429.6 L355.8,428.7 L356.0,427.7 L356.2,426.7 L356.5,425.8 L356.7,424.8 L356.9,423.8 L357.2,422.8 L357.4,421.9 L357.6,420.9 L357.9,419.9 L358.1,419.0 L358.3,418.0 L358.6,417.0 L358.8,416.1 L359.1,415.1 L359.3,414.1 L359.5,413.1 L359.8,412.2 L360.0,411.2 L360.2,410.2 L360.5,409.3 L360.7,408.3 L361.0,407.3 L361.2,406.3 L361.4,405.4 L361.7,404.4 L361.9,403.4 L362.1,402.5 L362.4,401.5 L362.6,400.5 L362.8,399.5 L363.1,398.6 L363.3,397.6 L363.5,396.6 L363.8,395.7 L364.0,394.7 L364.2,393.7 L364.5,392.7 L364.7,391.8 L364.9,390.8 L365.2,389.8 L365.4,388.9 L365.6,387.9 L365.9,386.9 L366.1,385.9 L366.3,385.0 L366.6,384.0 L366.8,383.0 L367.0,382.1 L367.3,381.1 L367.5,380.1 L367.7,379.1 L368.0,378.2 L368.2,377.2 L368.4,376.2 L368.6,375.2 L368.9,374.3 L369.1,373.3 L369.3,372.3 L369.5,371.4 L369.8,370.4 L370.0,369.4 L370.2,368.4 L370.5,367.5 L370.7,366.5 L370.9,365.5 L371.1,364.5 L371.4,363.6 L371.6,362.6 L371.8,361.6 L372.0,360.6 L372.2,359.7 L372.5,358.7 L372.7,357.7 L372.9,356.7 L373.1,355.8 L373.4,354.8 L373.6,353.8 L373.8,352.9 L374.0,351.9 L374.2,350.9 L374.5,349.9 L374.7,349.0 L374.9,348.0 L375.1,347.0 L375.3,346.0 L375.5,345.0 L375.8,344.1 L376.0,343.1 L376.2,342.1 L376.4,341.1 L376.6,340.2 L376.8,339.2 L377.0,338.2 L377.2,337.2 L377.5,336.3 L377.7,335.3 L377.9,334.3 L378.1,333.3 L378.3,332.4 L378.5,331.4 L378.7,330.4 L378.9,329.4 L379.1,328.4 L379.4,327.5 L379.6,326.5 L379.8,325.5 L380.0,324.5 L380.2,323.6 L380.4,322.6 L380.6,321.6 L380.9,320.6 L381.1,319.7 L381.3,318.7 L381.5,317.7 L381.7,316.7 L381.9,315.8 L382.2,314.8 L382.4,313.8 L382.6,312.8 L382.8,311.9 L383.0,310.9 L383.3,309.9 L383.5,308.9 L383.7,308.0 L383.9,307.0 L384.2,306.0 L384.4,305.0 L384.6,304.1 L384.8,303.1 L385.0,302.1 L385.3,301.1 L385.5,300.2 L385.7,299.2 L385.9,298.2 L386.1,297.2 L386.4,296.3 L386.6,295.3 L386.8,294.3 L387.0,293.3 L387.2,292.4 L387.5,291.4 L387.7,290.4 L387.9,289.4 L388.1,288.5 L388.4,287.5 L388.6,286.5 L388.8,285.6 L389.0,284.6 L389.3,283.6 L389.5,282.6 L389.8,281.7 L390.0,280.7 L390.2,279.7 L390.5,278.8 L390.7,277.8 L391.0,276.8 L391.2,275.9 L391.5,274.9 L391.7,273.9 L392.0,273.0 L392.3,272.0 L392.5,271.0 L392.8,270.1 L393.1,269.1 L393.3,268.1 L393.6,267.2 L393.9,266.2 L394.2,265.3 L394.5,264.3 L394.8,263.4 L395.1,262.4 L395.4,261.5 L395.8,260.5 L396.1,259.6 L396.4,258.7 L396.8,257.7 L397.2,256.8 L397.6,255.9 L397.9,254.9 L398.3,254.0 L398.7,253.1 L399.2,252.2 L399.6,251.3 L400.0,250.4 L400.4,249.5 L400.9,248.6 L401.3,247.7 L401.8,246.8 L402.3,245.9 L402.8,245.1 L403.3,244.2 L403.9,243.4 L404.5,242.5 L405.1,241.7 L405.7,241.0 L406.5,240.3 L407.2,239.7 L408.0,239.2 L408.9,238.8 L409.8,238.6 L410.7,238.5 L411.6,238.6 L412.5,238.9 L413.3,239.4 L414.1,240.0 L414.9,240.7 L415.6,241.4 L416.2,242.1 L416.8,242.9 L417.4,243.8 L417.9,244.6 L418.4,245.5 L418.9,246.4 L419.3,247.3 L419.8,248.2 L420.2,249.1 L420.6,250.0 L421.0,250.9 L421.3,251.9 L421.7,252.8 L422.0,253.7 L422.4,254.7 L422.7,255.6 L423.0,256.6 L423.3,257.5 L423.6,258.5 L423.9,259.4 L424.2,260.4 L424.5,261.4 L424.7,262.3 L425.0,263.3 L425.3,264.3 L425.5,265.2 L425.8,266.2 L426.0,267.2 L426.3,268.1 L426.5,269.1 L426.7,270.1 L427.0,271.0 L427.2,272.0 L427.5,273.0 L427.7,274.0 L427.9,274.9 L428.2,275.9 L428.4,276.9 L428.6,277.8 L428.8,278.8 L429.1,279.8 L429.3,280.8 L429.5,281.7 L429.7,282.7 L429.9,283.7 L430.2,284.7 L430.4,285.6 L430.6,286.6 L430.8,287.6 L431.0,288.6 L431.2,289.6 L431.4,290.5 L431.6,291.5 L431.8,292.5 L432.1,293.5 L432.3,294.4 L432.5,295.4 L432.7,296.4 L432.9,297.4 L433.0,298.4 L433.2,299.3 L433.4,300.3 L433.6,301.3 L433.8,302.3 L434.0,303.3 L434.2,304.3 L434.3,305.2 L434.5,306.2 L434.7,307.2 L434.8,308.2 L435.0,309.2 L435.2,310.2 L435.3,311.1 L435.5,312.1 L435.7,313.1 L435.8,314.1 L436.0,315.1 L436.1,316.1 L436.3,317.1 L436.4,318.1 L436.6,319.0 L436.7,320.0 L436.9,321.0 L437.0,322.0 L437.1,323.0 L437.3,324.0 L437.4,325.0 L437.5,326.0 L437.6,327.0 L437.8,328.0 L437.9,328.9 L438.0,329.9 L438.1,330.9 L438.3,331.9 L438.4,332.9 L438.5,333.9 L438.6,334.9 L438.8,335.9 L438.9,336.9 L439.0,337.9 L439.1,338.9 L439.3,339.9 L439.4,340.8 L439.5,341.8 L439.6,342.8 L439.8,343.8 L439.9,344.8 L440.0,345.8 L440.2,346.8 L440.3,347.8 L440.4,348.8 L440.6,349.8 L440.7,350.8 L440.8,351.7 L441.0,352.7 L441.1,353.7 L441.2,354.7 L441.4,355.7 L441.5,356.7 L441.7,357.7 L441.8,358.7 L441.9,359.7 L442.1,360.7 L442.2,361.6 L442.3,362.6 L442.5,363.6 L442.6,364.6 L442.7,365.6 L442.9,366.6 L443.0,367.6 L443.2,368.6 L443.3,369.6 L443.4,370.5 L443.6,371.5 L443.7,372.5 L443.9,373.5 L444.0,374.5 L444.1,375.5 L444.3,376.5 L444.4,377.5 L444.6,378.5 L444.7,379.5 L444.8,380.4 L445.0,381.4 L445.1,382.4 L445.3,383.4 L445.4,384.4 L445.5,385.4 L445.7,386.4 L445.8,387.4 L445.9,388.4 L446.1,389.3 L446.2,390.3 L446.3,391.3 L446.5,392.3 L446.6,393.3 L446.8,394.3 L446.9,395.3 L447.0,396.3 L447.2,397.3 L447.3,398.3 L447.4,399.3 L447.6,400.2 L447.7,401.2 L447.8,402.2 L448.0,403.2 L448.1,404.2 L448.3,405.2 L448.4,406.2 L448.5,407.2 L448.7,408.2 L448.8,409.1 L449.0,410.1 L449.1,411.1 L449.2,412.1 L449.4,413.1 L449.5,414.1 L449.6,415.1 L449.8,416.1 L449.9,417.1 L450.1,418.1 L450.2,419.0 L450.4,420.0 L450.5,421.0 L450.7,422.0 L450.8,423.0 L451.0,424.0 L451.1,425.0 L451.3,426.0 L451.4,426.9 L451.6,427.9 L451.8,428.9 L451.9,429.9 L452.1,430.9 L452.3,431.9 L452.5,432.8 L452.6,433.8 L452.8,434.8 L453.0,435.8 L453.2,436.8 L453.4,437.8 L453.5,438.7 L453.7,439.7 L453.9,440.7 L454.1,441.7 L454.2,442.7 L454.4,443.7 L454.6,444.6 L454.7,445.6 L454.9,446.6 L455.1,447.6 L455.2,448.6 L455.4,449.6 L455.6,450.6 L455.7,451.5 L455.9,452.5 L456.1,453.5 L456.2,454.5 L456.4,455.5 L456.5,456.5 L456.7,457.5 L456.9,458.5 L457.0,459.4 L457.2,460.4 L457.3,461.4 L457.5,462.4 L457.7,463.4 L457.8,464.4 L458.0,465.4 L458.1,466.3 L458.3,467.3 L458.5,468.3 L458.6,469.3 L458.8,470.3 L458.9,471.3 L459.1,472.3 L459.3,473.2 L459.4,474.2 L459.6,475.2 L459.7,476.2 L459.9,477.2 L460.1,478.2 L460.2,479.2 L460.4,480.1 L460.6,481.1 L460.8,482.1 L460.9,483.1 L461.1,484.1 L461.3,485.1 L461.5,486.0 L461.6,487.0 L461.8,488.0 L462.0,489.0 L462.2,490.0 L462.4,491.0 L462.6,491.9 L462.7,492.9 L462.9,493.9 L463.1,494.9 L463.3,495.9 L463.5,496.9 L463.7,497.8 L463.9,498.8 L464.1,499.8 L464.3,500.8 L464.5,501.8 L464.7,502.7 L464.9,503.7 L465.1,504.7 L465.3,505.7 L465.5,506.6 L465.8,507.6 L466.0,508.6 L466.2,509.6 L466.4,510.5 L466.6,511.5 L466.9,512.5 L467.1,513.5 L467.4,514.4 L467.6,515.4 L467.8,516.4 L468.1,517.3 L468.3,518.3 L468.6,519.3 L468.9,520.2 L469.1,521.2 L469.4,522.2 L469.7,523.1 L469.9,524.1 L470.2,525.0 L470.5,526.0 L470.8,527.0 L471.1,527.9 L471.4,528.9 L471.7,529.8 L472.0,530.8 L472.3,531.7 L472.7,532.7 L473.0,533.6 L473.3,534.6 L473.7,535.5 L474.1,536.4 L474.4,537.4 L474.8,538.3 L475.2,539.2 L475.7,540.1 L476.1,541.0 L476.6,541.9 L477.0,542.7 L477.6,543.6 L478.1,544.5 L478.6,545.3 L479.2,546.2 L479.8,547.0 L480.4,547.7 L481.0,548.5 L481.7,549.3 L482.3,550.0 L483.0,550.7 L483.8,551.4 L484.5,552.1 L485.3,552.7 L486.1,553.3 L487.0,553.9 L487.8,554.4 L488.7,554.8 L489.5,555.3 L490.4,555.7 L491.4,556.1 L492.3,556.5 L493.2,556.8 L494.2,557.1 L495.2,557.4 L496.2,557.6 L497.1,557.8 L498.1,558.0 L499.1,558.1 L500.1,558.3 L501.1,558.4 L502.0,558.5 L503.0,558.6 L504.0,558.6 L505.0,558.7 L506.0,558.8 L507.0,558.9 L508.0,558.9 L509.1,559.0 L510.1,559.0 L511.1,559.1 L512.1,559.1 L513.1,559.2 L514.1,559.2 L515.1,559.3 L516.1,559.3 L517.1,559.3 L518.1,559.4 L519.1,559.4 L520.1,559.4 L521.1,559.5 L522.0,559.5 L523.0,559.5 L524.0,559.5 L525.0,559.6 L526.0,559.6 L527.0,559.6 L528.0,559.6 L529.0,559.7 L530.0,559.7 L531.0,559.7 L532.0,559.7 L533.0,559.8 L534.0,559.8 L535.0,559.8 L536.0,559.9 L537.0,559.9 L538.0,560.0 L539.0,560.0 L540.0,560.0 L541.0,560.1 L542.0,560.1 L543.0,560.1 L544.0,560.2 L545.0,560.2 L546.0,560.3 L547.0,560.3 L548.0,560.4 L549.0,560.4 L550.0,560.5 L551.0,560.5 L552.0,560.6 L553.0,560.6 L554.0,560.7 L555.0,560.8 L556.0,560.9 L557.0,561.0 L558.0,561.0 L559.0,561.1 L560.0,561.2 L561.0,561.3 L562.0,561.4 L563.0,561.5 L564.0,561.6 L564.9,561.7 L565.9,561.8 L566.9,561.9 L567.9,562.0 L568.9,562.0 L569.9,562.1 L570.9,562.2 L571.9,562.3 L572.9,562.4 L573.9,562.4 L574.9,562.5 L575.9,562.6 L576.9,562.7 L577.9,562.8 L578.9,562.8 L579.9,562.9 L580.9,563.0 L581.9,563.1 L582.9,563.2 L583.9,563.3 L584.9,563.4 L585.9,563.5 L586.9,563.6 L587.9,563.7 L588.8,563.7 L589.8,563.8 L590.8,563.9 L591.8,564.0 L592.8,564.0 L593.8,564.1 L594.8,564.1 L595.8,564.2 L596.8,564.2 L597.8,564.3 L598.8,564.3 L599.8,564.4 L600.8,564.4 L601.8,564.4 L602.8,564.5 L603.8,564.5 L604.8,564.6 L605.8,564.6 L606.8,564.6 L607.8,564.7 L608.8,564.7 L609.8,564.7 L610.8,564.8 L611.8,564.8 L612.8,564.8 L613.8,564.8 L614.8,564.8 L615.8,564.9 L616.8,564.9 L617.8,564.9 L618.8,564.9 L619.8,564.9 L620.8,564.9 L621.8,564.9 L622.8,564.9 L623.8,564.9 L624.8,564.9 L625.8,564.9 L626.8,564.9 L627.8,564.9 L628.8,564.9 L629.8,564.9 L630.8,564.9 L631.8,564.9 L632.8,564.9 L633.8,564.9 L634.8,564.9 L635.8,564.9 L636.8,564.9 L637.8,564.9 L638.8,564.9 L639.8,564.9 L640.8,564.9 L641.8,564.9 L642.8,564.9 L643.8,564.9 L644.8,564.9 L645.8,564.9 L646.8,564.9 L647.8,564.9 L648.8,564.9 L649.8,564.9 L650.8,564.9 L651.8,564.9 L652.8,564.9 L653.8,564.9 L654.8,564.9 L655.8,564.9 L656.8,564.9 L657.8,564.9 L658.8,564.9 L659.8,564.9 L660.8,564.9 L661.8,564.9 L662.8,564.9 L663.8,564.9 L664.8,564.9 L665.8,564.9 L666.8,564.9 L667.8,564.9 L668.8,564.9 L669.8,564.9 L670.8,564.9 L671.8,564.9 L672.8,564.9 L673.8,564.9 L674.8,564.9 L675.8,564.9 L676.8,564.9 L677.8,564.9 L678.8,564.9 L679.7,564.9 L680.7,564.9 L681.7,564.9 L682.7,564.9 L683.7,564.9 L684.7,564.9 L685.7,564.9 L686.7,564.9 L687.7,564.9 L688.7,564.9 L689.7,564.9 L690.7,564.9 L691.7,564.9 L692.7,564.9 L693.7,564.9 L694.7,564.9 L695.7,564.9 L696.7,564.9 L697.7,564.9 L698.7,564.9 L699.7,564.9 L700.7,564.9 L701.7,564.9 L702.7,564.9 L703.7,564.9 L704.7,564.9 L705.7,564.9 L706.7,564.9 L707.7,564.9 L708.7,564.9 L709.7,564.9 L710.7,564.9 L711.7,564.9 L712.7,564.9 L713.7,564.9 L714.7,564.9 L715.7,564.9 L716.7,564.9 L717.7,564.8 L718.7,564.8 L719.7,564.8 L720.7,564.8 L721.7,564.8 L722.7,564.8 L723.7,564.8 L724.7,564.8 L725.7,564.8 L726.7,564.8 L727.7,564.8 L728.7,564.8 L729.7,564.8 L730.7,564.8 L731.7,564.8 L732.7,564.8 L733.7,564.8 L734.7,564.8 L735.7,564.8 L736.7,564.8 L737.7,564.8 L738.7,564.8 L739.7,564.8 L740.7,564.8 L741.6,564.8 L742.5,564.8 L743.3,564.8 L744.7,564.8" stroke="#0000ff"/>
<path d="M82.4,412.3 L83.8,412.3 L84.6,412.3 L85.5,412.3 L86.4,412.3 L87.4,412.3 L88.4,412.3 L89.4,412.3 L90.4,412.3 L91.4,412.3 L92.4,412.3 L93.4,412.3 L94.4,412.3 L95.4,412.3 L96.4,412.3 L97.4,412.3 L98.4,412.3 L99.4,412.3 L100.4,412.3 L101.4,412.3 L102.4,412.3 L103.4,412.3 L104.4,412.3 L105.4,412.3 L106.4,412.3 L107.4,412.3 L108.4,412.3 L109.4,412.3 L110.4,412.3 L111.4,412.3 L112.4,412.3 L113.4,412.3 L114.4,412.3 L115.4,412.3 L116.4,412.3 L117.4,412.3 L118.4,412.3 L119.4,412.3 L120.4,412.3 L121.4,412.3 L122.4,412.3 L123.4,412.3 L124.4,412.3 L125.4,412.3 L126.4,412.3 L127.4,412.3 L128.4,412.3 L129.4,412.3 L130.4,412.3 L131.4,412.3 L132.4,412.3 L133.4,412.3 L134.4,412.3 L135.4,412.3 L136.4,412.3 L137.4,412.3 L138.4,412.3 L139.4,412.3 L140.4,412.3 L141.4,412.3 L142.4,412.3 L143.4,412.3 L144.4,412.3 L145.4,412.3 L146.4,412.3 L147.4,412.3 L148.4,412.3 L149.4,412.3 L150.4,412.3 L151.4,412.3 L152.4,412.3 L153.4,412.3 L154.4,412.3 L155.4,412.3 L156.4,412.3 L157.4,412.3 L158.4,412.3 L159.4,412.3 L160.4,412.3 L161.4,412.3 L162.3,412.3 L163.3,412.3 L164.3,412.3 L165.3,412.3 L166.3,412.2 L167.3,412.2 L168.3,412.2 L169.3,412.2 L170.3,412.1 L171.3,412.1 L172.3,412.1 L173.3,412.1 L174.3,412.0 L175.3,412.0 L176.3,412.0 L177.3,411.9 L178.3,411.9 L179.3,411.9 L180.3,411.8 L181.3,411.8 L182.3,411.8 L183.3,411.7 L184.3,411.7 L185.3,411.7 L186.3,411.6 L187.3,411.6 L188.3,411.6 L189.3,411.5 L190.3,411.5 L191.3,411.5 L192.3,411.5 L193.3,411.4 L194.3,411.4 L195.3,411.4 L196.3,411.3 L197.3,411.3 L198.3,411.3 L199.3,411.2 L200.3,411.2 L201.3,411.1 L202.3,411.0 L203.3,410.9 L204.3,410.8 L205.3,410.7 L206.3,410.6 L207.3,410.5 L208.3,410.4 L209.3,410.2 L210.2,410.1 L211.2,409.9 L212.2,409.8 L213.2,409.6 L214.2,409.4 L215.2,409.3 L216.2,409.1 L217.1,408.9 L218.1,408.7 L219.1,408.5 L220.1,408.3 L221.0,408.0 L222.0,407.8 L223.0,407.6 L224.0,407.3 L224.9,407.0 L225.9,406.8 L226.9,406.5 L227.8,406.2 L228.8,406.0 L229.7,405.7 L230.7,405.4 L231.6,405.1 L232.6,404.8 L233.5,404.5 L234.5,404.1 L235.4,403.8 L236.4,403.5 L237.3,403.1 L238.2,402.7 L239.2,402.4 L240.1,402.0 L241.0,401.6 L241.9,401.1 L242.8,400.7 L243.7,400.3 L244.6,399.8 L245.5,399.3 L246.3,398.8 L247.2,398.3 L248.1,397.8 L248.9,397.3 L249.8,396.8 L250.6,396.3 L251.5,395.7 L252.3,395.2 L253.1,394.6 L253.9,394.0 L254.8,393.5 L255.6,392.9 L256.4,392.3 L257.2,391.7 L258.0,391.0 L258.7,390.4 L259.5,389.8 L260.3,389.1 L261.0,388.5 L261.7,387.8 L262.5,387.1 L263.2,386.4 L263.9,385.7 L264.6,385.0 L265.2,384.2 L265.9,383.5 L266.6,382.7 L267.2,382.0 L267.9,381.2 L268.5,380.5 L269.2,379.7 L269.8,378.9 L270.4,378.1 L271.1,377.4 L271.7,376.6 L272.3,375.8 L272.9,375.0 L273.5,374.2 L274.0,373.3 L274.6,372.5 L275.2,371.7 L275.8,370.9 L276.4,370.1 L276.9,369.3 L277.5,368.4 L278.1,367.6 L278.6,366.8 L279.2,366.0 L279.8,365.1 L280.3,364.3 L280.9,363.5 L281.4,362.6 L282.0,361.8 L282.5,361.0 L283.0,360.1 L283.6,359.3 L284.1,358.4 L284.6,357.6 L285.2,356.7 L285.7,355.9 L286.2,355.0 L286.7,354.2 L287.2,353.3 L287.7,352.5 L288.2,351.6 L288.8,350.7 L289.3,349.9 L289.8,349.0 L290.3,348.2 L290.8,347.3 L291.3,346.4 L291.8,345.6 L292.3,344.7 L292.8,343.8 L293.3,343.0 L293.8,342.1 L294.3,341.2 L294.8,340.4 L295.3,339.5 L295.7,338.6 L296.2,337.7 L296.7,336.9 L297.1,336.0 L297.6,335.1 L298.1,334.2 L298.5,333.3 L299.0,332.4 L299.4,331.5 L299.9,330.6 L300.3,329.7 L300.8,328.8 L301.2,327.9 L301.7,327.0 L302.1,326.2 L302.5,325.3 L303.0,324.4 L303.4,323.5 L303.9,322.6 L304.3,321.7 L304.8,320.8 L305.3,319.9 L305.7,319.0 L306.2,318.1 L306.6,317.3 L307.1,316.4 L307.6,315.5 L308.0,314.6 L308.5,313.7 L309.0,312.8 L309.4,311.9 L309.9,311.0 L310.3,310.2 L310.8,309.3 L311.2,308.4 L311.6,307.5 L312.1,306.6 L312.5,305.7 L312.9,304.7 L313.3,303.8 L313.7,302.9 L314.2,302.0 L314.6,301.1 L315.0,300.2 L315.4,299.3 L315.8,298.4 L316.2,297.5 L316.6,296.5 L317.0,295.6 L317.4,294.7 L317.8,293.8 L318.2,292.9 L318.6,292.0 L319.1,291.1 L319.5,290.2 L319.9,289.2 L320.3,288.3 L320.7,287.4 L321.1,286.5 L321.5,285.6 L321.9,284.7 L322.4,283.8 L322.8,282.9 L323.2,282.0 L323.6,281.1 L324.0,280.2 L324.4,279.2 L324.9,278.3 L325.3,277.4 L325.7,276.5 L326.1,275.6 L326.5,274.7 L327.0,273.8 L327.4,272.9 L327.8,272.0 L328.2,271.1 L328.7,270.2 L329.1,269.3 L329.6,268.4 L330.0,267.5 L330.5,266.6 L331.0,265.8 L331.5,264.9 L331.9,264.0 L332.4,263.1 L332.9,262.3 L333.5,261.4 L334.0,260.6 L334.5,259.7 L335.0,258.9 L335.6,258.0 L336.1,257.2 L336.7,256.3 L337.2,255.5 L337.8,254.7 L338.4,253.9 L338.9,253.1 L339.5,252.3 L340.1,251.5 L340.8,250.7 L341.4,249.9 L342.0,249.1 L342.7,248.4 L343.3,247.6 L344.0,246.9 L344.7,246.2 L345.4,245.4 L346.1,244.7 L346.9,244.0 L347.6,243.4 L348.4,242.8 L349.2,242.2 L350.0,241.6 L350.9,241.1 L351.7,240.6 L352.6,240.2 L353.6,239.8 L354.5,239.4 L355.4,239.1 L356.4,238.9 L357.4,238.7 L358.4,238.6 L359.4,238.5 L360.4,238.4 L361.3,238.5 L362.3,238.6 L363.3,238.8 L364.3,239.0 L365.2,239.3 L366.1,239.6 L367.0,240.0 L367.9,240.5 L368.8,241.1 L369.6,241.6 L370.4,242.2 L371.2,242.8 L371.9,243.5 L372.7,244.2 L373.4,244.9 L374.1,245.6 L374.8,246.3 L375.5,247.1 L376.1,247.8 L376.8,248.6 L377.4,249.4 L378.0,250.1 L378.6,250.9 L379.2,251.8 L379.7,252.6 L380.3,253.4 L380.9,254.2 L381.4,255.1 L381.9,256.0 L382.4,256.8 L382.9,257.7 L383.4,258.5 L383.9,259.4 L384.4,260.3 L384.8,261.2 L385.3,262.1 L385.7,263.0 L386.2,263.9 L386.6,264.8 L387.0,265.7 L387.4,266.6 L387.8,267.5 L388.2,268.4 L388.6,269.3 L389.0,270.3 L389.4,271.2 L389.8,272.1 L390.2,273.0 L390.6,274.0 L390.9,274.9 L391.3,275.8 L391.7,276.7 L392.0,277.7 L392.4,278.6 L392.7,279.6 L393.0,280.5 L393.4,281.4 L393.7,282.4 L394.1,283.3 L394.4,284.3 L394.7,285.2 L395.1,286.1 L395.4,287.1 L395.8,288.0 L396.1,289.0 L396.5,289.9 L396.8,290.8 L397.2,291.8 L397.5,292.7 L397.9,293.6 L398.2,294.6 L398.6,295.5 L399.0,296.4 L399.3,297.4 L399.7,298.3 L400.0,299.2 L400.4,300.2 L400.7,301.1 L401.1,302.0 L401.4,303.0 L401.8,303.9 L402.1,304.8 L402.5,305.8 L402.8,306.7 L403.2,307.7 L403.5,308.6 L403.9,309.5 L404.2,310.5 L404.6,311.4 L404.9,312.3 L405.3,313.3 L405.6,314.2 L406.0,315.2 L406.3,316.1 L406.7,317.0 L407.0,318.0 L407.4,318.9 L407.8,319.8 L408.1,320.7 L408.5,321.7 L408.9,322.6 L409.3,323.5 L409.6,324.4 L410.0,325.4 L410.4,326.3 L410.8,327.2 L411.2,328.1 L411.6,329.0 L412.0,330.0 L412.4,330.9 L412.8,331.8 L413.1,332.7 L413.5,333.6 L413.9,334.6 L414.3,335.5 L414.7,336.4 L415.1,337.3 L415.5,338.3 L415.8,339.2 L416.2,340.1 L416.6,341.0 L417.0,341.9 L417.4,342.8 L417.8,343.8 L418.2,344.7 L418.6,345.6 L419.0,346.5 L419.4,347.4 L419.8,348.4 L420.2,349.3 L420.6,350.2 L421.0,351.1 L421.5,352.0 L421.9,352.9 L422.3,353.8 L422.8,354.7 L423.2,355.6 L423.7,356.5 L424.2,357.3 L424.7,358.2 L425.3,359.0 L425.8,359.8 L426.4,360.7 L427.0,361.5 L427.6,362.3 L428.2,363.1 L428.8,363.9 L429.5,364.6 L430.2,365.4 L430.8,366.1 L431.5,366.8 L432.3,367.5 L433.0,368.2 L433.8,368.8 L434.6,369.4 L435.4,369.9 L436.3,370.4 L437.2,370.9 L438.1,371.3 L439.0,371.7 L440.0,372.0 L440.9,372.3 L441.9,372.4 L442.9,372.6 L443.9,372.7 L444.9,372.7 L445.9,372.7 L446.9,372.7 L447.9,372.8 L448.9,372.8 L449.9,372.8 L450.9,372.8 L451.9,372.8 L452.9,372.9 L453.9,373.0 L454.9,373.1 L455.9,373.2 L456.9,373.4 L457.8,373.6 L458.8,373.8 L459.8,374.0 L460.8,374.2 L461.7,374.5 L462.7,374.8 L463.6,375.1 L464.5,375.5 L465.4,375.9 L466.3,376.3 L467.2,376.8 L468.1,377.3 L469.0,377.7 L469.9,378.2 L470.7,378.7 L471.6,379.2 L472.4,379.8 L473.3,380.3 L474.1,380.9 L474.9,381.4 L475.7,382.0 L476.6,382.6 L477.4,383.2 L478.2,383.8 L479.0,384.4 L479.8,385.0 L480.6,385.6 L481.4,386.2 L482.2,386.8 L483.0,387.4 L483.8,388.0 L484.6,388.6 L485.4,389.2 L486.2,389.8 L487.0,390.4 L487.8,391.0 L488.6,391.6 L489.4,392.2 L490.2,392.8 L491.0,393.4 L491.8,394.0 L492.6,394.6 L493.4,395.2 L494.2,395.7 L495.1,396.3 L495.9,396.9 L496.7,397.4 L497.5,398.0 L498.4,398.5 L499.2,399.0 L500.1,399.5 L501.0,400.1 L501.8,400.5 L502.7,401.0 L503.6,401.5 L504.5,402.0 L505.4,402.4 L506.3,402.9 L507.2,403.3 L508.1,403.7 L509.0,404.1 L509.9,404.5 L510.8,404.9 L511.8,405.2 L512.7,405.6 L513.7,405.9 L514.6,406.2 L515.6,406.5 L516.5,406.8 L517.5,407.0 L518.5,407.2 L519.4,407.4 L520.4,407.6 L521.4,407.8 L522.4,407.9 L523.4,408.1 L524.4,408.2 L525.4,408.3 L526.4,408.4 L527.4,408.5 L528.4,408.5 L529.4,408.6 L530.4,408.7 L531.4,408.7 L532.4,408.7 L533.4,408.8 L534.4,408.8 L535.4,408.7 L536.4,408.7 L537.3,408.7 L538.3,408.6 L539.3,408.5 L540.3,408.4 L541.3,408.3 L542.3,408.1 L543.3,408.0 L544.3,407.9 L545.3,407.7 L546.3,407.6 L547.3,407.5 L548.3,407.3 L549.3,407.2 L550.2,407.0 L551.2,406.9 L552.2,406.8 L553.2,406.6 L554.2,406.4 L555.2,406.3 L556.2,406.1 L557.2,405.9 L558.1,405.7 L559.1,405.5 L560.1,405.3 L561.1,405.1 L562.0,404.9 L563.0,404.7 L564.0,404.5 L565.0,404.2 L565.9,404.0 L566.9,403.7 L567.9,403.5 L568.8,403.2 L569.8,403.0 L570.8,402.7 L571.7,402.4 L572.7,402.2 L573.7,401.9 L574.6,401.6 L575.6,401.3 L576.6,401.1 L577.5,400.8 L578.5,400.6 L579.5,400.3 L580.4,400.1 L581.4,399.9 L582.4,399.7 L583.4,399.6 L584.4,399.4 L585.3,399.2 L586.3,399.1 L587.3,398.9 L588.3,398.8 L589.3,398.6 L590.3,398.5 L591.3,398.5 L592.3,398.4 L593.3,398.4 L594.3,398.4 L595.3,398.4 L596.3,398.4 L597.3,398.5 L598.3,398.6 L599.3,398.7 L600.3,398.9 L601.3,399.0 L602.2,399.2 L603.2,399.3 L604.2,399.5 L605.2,399.7 L606.2,399.9 L607.1,400.1 L608.1,400.3 L609.1,400.6 L610.0,400.8 L611.0,401.1 L611.9,401.4 L612.9,401.8 L613.8,402.1 L614.8,402.4 L615.7,402.7 L616.7,403.0 L617.6,403.4 L618.6,403.7 L619.6,404.0 L620.5,404.2 L621.5,404.5 L622.4,404.8 L623.4,405.1 L624.4,405.4 L625.3,405.6 L626.3,405.9 L627.2,406.2 L628.2,406.5 L629.2,406.7 L630.1,407.0 L631.1,407.2 L632.1,407.4 L633.1,407.7 L634.0,407.9 L635.0,408.1 L636.0,408.3 L637.0,408.5 L637.9,408.6 L638.9,408.8 L639.9,409.0 L640.9,409.2 L641.9,409.3 L642.9,409.5 L643.9,409.6 L644.9,409.8 L645.8,409.9 L646.8,410.0 L647.8,410.2 L648.8,410.3 L649.8,410.4 L650.8,410.5 L651.8,410.6 L652.8,410.7 L653.8,410.8 L654.8,410.9 L655.8,411.0 L656.8,411.0 L657.8,411.1 L658.8,411.2 L659.8,411.3 L660.8,411.3 L661.8,411.4 L662.8,411.5 L663.8,411.5 L664.8,411.6 L665.8,411.6 L666.8,411.7 L667.8,411.7 L668.8,411.8 L669.8,411.8 L670.7,411.8 L671.7,411.9 L672.7,411.9 L673.7,411.9 L674.7,411.9 L675.7,412.0 L676.7,412.0 L677.7,412.0 L678.7,412.0 L679.7,412.1 L680.7,412.1 L681.7,412.1 L682.7,412.1 L683.7,412.1 L684.7,412.2 L685.7,412.2 L686.7,412.2 L687.7,412.2 L688.7,412.2 L689.7,412.2 L690.7,412.2 L691.7,412.3 L692.7,412.3 L693.7,412.3 L694.7,412.3 L695.7,412.3 L696.7,412.3 L697.7,412.3 L698.7,412.3 L699.7,412.3 L700.7,412.3 L701.7,412.3 L702.7,412.3 L703.7,412.3 L704.7,412.3 L705.7,412.3 L706.7,412.3 L707.7,412.3 L708.7,412.3 L709.7,412.3 L710.7,412.3 L711.7,412.3 L712.7,412.3 L713.7,412.3 L714.7,412.3 L715.7,412.3 L716.7,412.3 L717.7,412.3 L718.7,412.3 L719.7,412.3 L720.7,412.3 L721.7,412.3 L722.7,412.3 L723.7,412.3 L724.7,412.3 L725.7,412.3 L726.7,412.3 L727.7,412.3 L728.7,412.3 L729.7,412.3 L730.7,412.3 L731.7,412.3 L732.7,412.3 L733.7,412.3 L734.7,412.3 L735.7,412.3 L736.7,412.3 L737.7,412.3 L738.7,412.3 L739.7,412.3 L740.7,412.3 L741.6,412.3 L742.5,412.3 L743.3,412.3 L744.7,412.3" stroke="#008e00"/>
<path d="M82.4,339.9 L83.8,339.9 L84.6,339.9 L85.5,339.8 L86.4,339.8 L87.4,339.8 L88.4,339.8 L89.4,339.7 L90.4,339.7 L91.4,339.7 L92.4,339.6 L93.4,339.6 L94.4,339.6 L95.4,339.5 L96.4,339.5 L97.4,339.5 L98.4,339.4 L99.4,339.4 L100.4,339.3 L101.4,339.3 L102.4,339.2 L103.4,339.1 L104.4,339.1 L105.4,339.0 L106.4,338.9 L107.4,338.9 L108.3,338.8 L109.3,338.7 L110.3,338.6 L111.3,338.5 L112.3,338.4 L113.3,338.4 L114.3,338.3 L115.3,338.2 L116.3,338.1 L117.3,338.0 L118.3,337.9 L119.3,337.8 L120.3,337.8 L121.3,337.7 L122.3,337.6 L123.3,337.5 L124.3,337.4 L125.3,337.3 L126.3,337.2 L127.3,337.1 L128.3,337.0 L129.3,336.9 L130.3,336.8 L131.2,336.7 L132.2,336.6 L133.2,336.5 L134.2,336.4 L135.2,336.3 L136.2,336.2 L137.2,336.1 L138.2,336.0 L139.2,335.8 L140.2,335.7 L141.2,335.6 L142.2,335.4 L143.1,335.3 L144.1,335.1 L145.1,335.0 L146.1,334.8 L147.1,334.7 L148.1,334.5 L149.1,334.4 L150.1,334.2 L151.0,334.1 L152.0,333.9 L153.0,333.7 L154.0,333.6 L155.0,333.4 L156.0,333.2 L157.0,333.0 L157.9,332.9 L158.9,332.7 L159.9,332.5 L160.9,332.3 L161.9,332.1 L162.8,331.9 L163.8,331.7 L164.8,331.5 L165.8,331.3 L166.8,331.1 L167.7,330.9 L168.7,330.7 L169.7,330.5 L170.7,330.3 L171.6,330.1 L172.6,329.8 L173.6,329.6 L174.6,329.4 L175.5,329.2 L176.5,328.9 L177.5,328.7 L178.4,328.4 L179.4,328.2 L180.4,327.9 L181.3,327.7 L182.3,327.4 L183.3,327.2 L184.2,326.9 L185.2,326.6 L186.2,326.4 L187.1,326.1 L188.1,325.8 L189.1,325.6 L190.0,325.3 L191.0,325.1 L192.0,324.8 L192.9,324.6 L193.9,324.3 L194.9,324.1 L195.8,323.8 L196.8,323.6 L197.8,323.3 L198.7,323.1 L199.7,322.8 L200.7,322.6 L201.6,322.3 L202.6,322.1 L203.6,321.8 L204.5,321.6 L205.5,321.3 L206.5,321.1 L207.4,320.8 L208.4,320.6 L209.4,320.3 L210.4,320.1 L211.3,319.9 L212.3,319.6 L213.3,319.4 L214.2,319.1 L215.2,318.9 L216.2,318.6 L217.1,318.4 L218.1,318.1 L219.1,317.9 L220.1,317.7 L221.0,317.5 L222.0,317.3 L223.0,317.1 L224.0,317.0 L225.0,316.8 L226.0,316.7 L227.0,316.6 L227.9,316.5 L228.9,316.4 L229.9,316.3 L230.9,316.2 L231.9,316.1 L232.9,316.0 L233.9,315.9 L234.9,315.9 L235.9,315.8 L236.9,315.8 L237.9,315.7 L238.9,315.7 L239.9,315.7 L240.9,315.8 L241.9,315.8 L242.9,315.9 L243.9,315.9 L244.9,316.0 L245.9,316.1 L246.9,316.2 L247.9,316.3 L248.9,316.5 L249.9,316.6 L250.9,316.7 L251.9,316.9 L252.8,317.0 L253.8,317.1 L254.8,317.3 L255.8,317.4 L256.8,317.6 L257.8,317.8 L258.8,318.0 L259.7,318.2 L260.7,318.4 L261.7,318.6 L262.7,318.8 L263.6,319.0 L264.6,319.2 L265.6,319.4 L266.6,319.6 L267.6,319.9 L268.5,320.1 L269.5,320.3 L270.5,320.5 L271.5,320.6 L272.5,320.8 L273.4,321.0 L274.4,321.2 L275.4,321.4 L276.4,321.6 L277.4,321.8 L278.4,322.0 L279.3,322.1 L280.3,322.3 L281.3,322.5 L282.3,322.6 L283.3,322.7 L284.3,322.9 L285.3,323.0 L286.3,323.1 L287.3,323.2 L288.2,323.3 L289.2,323.4 L290.2,323.4 L291.2,323.5 L292.2,323.6 L293.2,323.7 L294.2,323.7 L295.2,323.8 L296.2,323.8 L297.2,323.9 L298.2,323.9 L299.2,324.0 L300.2,324.0 L301.2,324.0 L302.2,324.0 L303.2,324.0 L304.2,324.0 L305.2,323.9 L306.2,323.9 L307.2,323.9 L308.2,323.8 L309.2,323.8 L310.2,323.7 L311.2,323.7 L312.2,323.6 L313.2,323.6 L314.2,323.5 L315.2,323.5 L316.2,323.4 L317.2,323.3 L318.2,323.2 L319.2,323.1 L320.2,323.0 L321.1,322.8 L322.1,322.7 L323.1,322.5 L324.1,322.3 L325.1,322.2 L326.1,322.0 L327.1,321.8 L328.0,321.6 L329.0,321.4 L330.0,321.2 L331.0,321.0 L332.0,320.8 L333.0,320.6 L333.9,320.4 L334.9,320.2 L335.9,320.0 L336.9,319.8 L337.8,319.6 L338.8,319.4 L339.8,319.2 L340.8,318.9 L341.7,318.7 L342.7,318.5 L343.7,318.2 L344.6,318.0 L345.6,317.7 L346.6,317.5 L347.5,317.2 L348.5,317.0 L349.5,316.7 L350.4,316.4 L351.4,316.2 L352.4,315.9 L353.3,315.6 L354.3,315.3 L355.2,315.0 L356.2,314.7 L357.1,314.4 L358.1,314.1 L359.0,313.8 L360.0,313.5 L360.9,313.2 L361.9,312.8 L362.8,312.5 L363.8,312.2 L364.7,311.9 L365.7,311.6 L366.6,311.2 L367.6,310.9 L368.5,310.6 L369.4,310.2 L370.4,309.9 L371.3,309.5 L372.2,309.2 L373.2,308.8 L374.1,308.5 L375.0,308.1 L376.0,307.8 L376.9,307.4 L377.8,307.0 L378.8,306.6 L379.7,306.2 L380.6,305.8 L381.5,305.4 L382.4,305.0 L383.3,304.6 L384.2,304.2 L385.2,303.8 L386.1,303.4 L387.0,303.0 L387.9,302.6 L388.8,302.2 L389.7,301.8 L390.6,301.4 L391.5,301.0 L392.5,300.6 L393.4,300.2 L394.3,299.8 L395.2,299.4 L396.1,299.0 L397.1,298.6 L398.0,298.2 L398.9,297.8 L399.8,297.4 L400.7,297.1 L401.7,296.7 L402.6,296.3 L403.5,295.9 L404.4,295.5 L405.4,295.1 L406.3,294.7 L407.2,294.4 L408.1,294.0 L409.1,293.6 L410.0,293.2 L410.9,292.9 L411.8,292.5 L412.7,292.1 L413.7,291.7 L414.6,291.2 L415.5,290.8 L416.4,290.3 L417.2,289.9 L418.1,289.4 L419.0,288.9 L419.9,288.4 L420.7,287.9 L421.5,287.3 L422.3,286.7 L423.1,286.1 L423.9,285.5 L424.6,284.8 L425.4,284.2 L426.1,283.5 L426.8,282.8 L427.5,282.0 L428.2,281.3 L428.8,280.6 L429.5,279.8 L430.1,279.0 L430.8,278.3 L431.4,277.5 L432.0,276.7 L432.6,275.9 L433.2,275.1 L433.8,274.3 L434.3,273.4 L434.9,272.6 L435.5,271.8 L436.0,270.9 L436.5,270.1 L437.1,269.3 L437.6,268.4 L438.1,267.6 L438.6,266.7 L439.1,265.8 L439.6,265.0 L440.1,264.1 L440.6,263.2 L441.1,262.4 L441.6,261.5 L442.1,260.6 L442.5,259.7 L443.0,258.8 L443.5,257.9 L443.9,257.1 L444.4,256.2 L444.9,255.3 L445.3,254.4 L445.8,253.5 L446.3,252.7 L446.8,251.8 L447.3,250.9 L447.8,250.0 L448.3,249.2 L448.8,248.3 L449.3,247.5 L449.9,246.6 L450.4,245.8 L451.0,245.0 L451.7,244.2 L452.3,243.4 L453.0,242.7 L453.7,242.0 L454.4,241.3 L455.2,240.7 L456.0,240.1 L456.8,239.6 L457.7,239.2 L458.7,238.9 L459.6,238.7 L460.6,238.6 L461.6,238.6 L462.5,238.8 L463.5,239.1 L464.4,239.4 L465.3,239.8 L466.1,240.3 L466.9,240.9 L467.6,241.5 L468.3,242.2 L469.0,243.0 L469.6,243.8 L470.2,244.6 L470.8,245.4 L471.4,246.3 L472.0,247.1 L472.5,248.0 L473.0,248.8 L473.5,249.7 L474.0,250.5 L474.5,251.4 L475.0,252.3 L475.5,253.2 L476.0,254.0 L476.4,254.9 L476.9,255.8 L477.4,256.7 L477.8,257.6 L478.3,258.5 L478.7,259.4 L479.2,260.3 L479.6,261.2 L480.0,262.1 L480.5,263.0 L480.9,263.9 L481.3,264.8 L481.8,265.7 L482.2,266.6 L482.6,267.5 L483.1,268.4 L483.5,269.3 L483.9,270.2 L484.4,271.1 L484.8,272.0 L485.3,272.9 L485.7,273.8 L486.1,274.7 L486.6,275.6 L487.0,276.5 L487.4,277.4 L487.9,278.3 L488.3,279.2 L488.8,280.1 L489.2,281.0 L489.6,281.9 L490.1,282.7 L490.5,283.6 L491.0,284.5 L491.4,285.4 L491.8,286.3 L492.3,287.2 L492.7,288.1 L493.2,289.0 L493.6,289.9 L494.1,290.8 L494.5,291.7 L494.9,292.6 L495.4,293.5 L495.8,294.4 L496.3,295.3 L496.7,296.2 L497.2,297.1 L497.6,298.0 L498.0,298.9 L498.5,299.8 L498.9,300.7 L499.4,301.5 L499.9,302.4 L500.3,303.3 L500.8,304.2 L501.3,305.1 L501.8,305.9 L502.3,306.8 L502.8,307.7 L503.3,308.5 L503.8,309.4 L504.4,310.2 L504.9,311.1 L505.4,311.9 L506.0,312.7 L506.6,313.5 L507.2,314.3 L507.8,315.1 L508.4,315.9 L509.0,316.7 L509.7,317.5 L510.3,318.2 L511.0,319.0 L511.7,319.7 L512.4,320.4 L513.1,321.1 L513.8,321.8 L514.6,322.4 L515.4,323.1 L516.1,323.7 L516.9,324.3 L517.8,324.9 L518.6,325.4 L519.4,326.0 L520.3,326.5 L521.1,327.0 L522.0,327.5 L522.9,328.0 L523.8,328.4 L524.7,328.7 L525.7,329.1 L526.6,329.4 L527.6,329.7 L528.6,329.9 L529.5,330.1 L530.5,330.3 L531.5,330.4 L532.5,330.5 L533.5,330.6 L534.5,330.6 L535.5,330.6 L536.5,330.6 L537.5,330.5 L538.5,330.4 L539.5,330.3 L540.5,330.2 L541.4,330.0 L542.4,329.8 L543.4,329.6 L544.4,329.4 L545.3,329.2 L546.3,328.9 L547.3,328.7 L548.2,328.4 L549.2,328.1 L550.2,327.9 L551.1,327.6 L552.1,327.3 L553.1,327.1 L554.0,326.8 L555.0,326.6 L556.0,326.3 L556.9,326.0 L557.9,325.8 L558.8,325.5 L559.8,325.2 L560.7,324.9 L561.7,324.6 L562.6,324.2 L563.6,323.9 L564.5,323.5 L565.4,323.2 L566.4,322.8 L567.3,322.5 L568.2,322.1 L569.2,321.8 L570.1,321.4 L571.1,321.1 L572.0,320.8 L573.0,320.5 L573.9,320.2 L574.9,319.9 L575.9,319.6 L576.8,319.4 L577.8,319.1 L578.8,318.9 L579.7,318.7 L580.7,318.5 L581.7,318.3 L582.7,318.1 L583.7,318.0 L584.7,317.8 L585.6,317.7 L586.6,317.5 L587.6,317.4 L588.6,317.4 L589.6,317.3 L590.6,317.3 L591.6,317.3 L592.6,317.3 L593.6,317.4 L594.6,317.5 L595.6,317.6 L596.6,317.8 L597.6,317.9 L598.6,318.1 L599.5,318.3 L600.5,318.5 L601.5,318.7 L602.5,319.0 L603.4,319.2 L604.4,319.5 L605.3,319.9 L606.3,320.2 L607.2,320.5 L608.1,320.9 L609.1,321.3 L610.0,321.7 L610.9,322.1 L611.8,322.5 L612.7,322.9 L613.6,323.4 L614.5,323.8 L615.4,324.3 L616.3,324.7 L617.2,325.1 L618.1,325.6 L619.0,326.0 L619.9,326.5 L620.8,326.9 L621.7,327.4 L622.6,327.8 L623.5,328.2 L624.4,328.6 L625.3,329.0 L626.2,329.4 L627.1,329.8 L628.1,330.2 L629.0,330.5 L629.9,330.9 L630.8,331.3 L631.8,331.6 L632.7,332.0 L633.6,332.3 L634.6,332.7 L635.5,333.1 L636.5,333.4 L637.4,333.8 L638.3,334.1 L639.3,334.4 L640.2,334.7 L641.2,335.0 L642.1,335.3 L643.1,335.5 L644.1,335.8 L645.0,336.0 L646.0,336.3 L647.0,336.5 L648.0,336.7 L649.0,336.9 L649.9,337.1 L650.9,337.3 L651.9,337.5 L652.9,337.7 L653.9,337.8 L654.9,337.9 L655.8,338.1 L656.8,338.2 L657.8,338.3 L658.8,338.4 L659.8,338.5 L660.8,338.6 L661.8,338.7 L662.8,338.8 L663.8,338.9 L664.8,339.0 L665.8,339.0 L666.8,339.1 L667.8,339.2 L668.8,339.2 L669.8,339.3 L670.8,339.4 L671.8,339.4 L672.8,339.5 L673.8,339.5 L674.8,339.6 L675.8,339.7 L676.8,339.7 L677.8,339.8 L678.8,339.8 L679.8,339.9 L680.8,339.9 L681.8,340.0 L682.8,340.0 L683.8,340.0 L684.8,340.1 L685.8,340.1 L686.7,340.1 L687.7,340.2 L688.7,340.2 L689.7,340.2 L690.7,340.2 L691.7,340.2 L692.7,340.2 L693.7,340.2 L694.7,340.2 L695.7,340.3 L696.7,340.3 L697.7,340.3 L698.7,340.3 L699.7,340.3 L700.7,340.3 L701.7,340.3 L702.7,340.3 L703.7,340.3 L704.7,340.3 L705.7,340.3 L706.7,340.4 L707.7,340.4 L708.7,340.4 L709.7,340.4 L710.7,340.4 L711.7,340.4 L712.7,340.4 L713.7,340.4 L714.7,340.4 L715.7,340.4 L716.7,340.4 L717.7,340.4 L718.7,340.4 L719.7,340.4 L720.7,340.4 L721.7,340.4 L722.7,340.5 L723.7,340.5 L724.7,340.5 L725.7,340.5 L726.7,340.5 L727.7,340.5 L728.7,340.5 L729.7,340.5 L730.7,340.5 L731.7,340.5 L732.7,340.5 L733.7,340.5 L734.7,340.5 L735.7,340.5 L736.7,340.5 L737.7,340.5 L738.7,340.5 L739.7,340.5 L740.7,340.5 L741.6,340.5 L742.5,340.5 L743.3,340.5 L744.7,340.5" stroke="#ff0000"/>
</g>
<path d="M239.4,256.6 V290" stroke="#ff0000" stroke-width="5.2" fill="none"/>
<path d="M230.5,288.4 H248.5 L239.5,303.9 Z" fill="#ff0000"/>
<g style="will-change:transform">
<text transform="translate(75.6,22.7) scale(1.0,1)" text-anchor="end" fill="#000" >6.5</text>
<text transform="translate(75.6,68.7) scale(1.0,1)" text-anchor="end" fill="#000" >6.0</text>
<text transform="translate(75.6,114.7) scale(1.0,1)" text-anchor="end" fill="#000" >5.5</text>
<text transform="translate(75.6,160.7) scale(1.0,1)" text-anchor="end" fill="#000" >5.0</text>
<text transform="translate(75.6,206.7) scale(1.0,1)" text-anchor="end" fill="#000" >4.5</text>
<text transform="translate(76.2,247.9) scale(1.0,1)" text-anchor="end" fill="#000" >1.0</text>
<text transform="translate(76.2,320.4) scale(1.0,1)" text-anchor="end" fill="#000" >0.8</text>
<text transform="translate(76.2,392.8) scale(1.0,1)" text-anchor="end" fill="#000" >0.6</text>
<text transform="translate(76.2,465.3) scale(1.0,1)" text-anchor="end" fill="#000" >0.4</text>
<text transform="translate(76.2,537.7) scale(1.0,1)" text-anchor="end" fill="#000" >0.2</text>
<text transform="translate(76.2,610.2) scale(1.0,1)" text-anchor="end" fill="#000" >0.0</text>
<text transform="translate(82.6,643.6) scale(1.0,1)" text-anchor="middle" fill="#000" >0</text>
<text transform="translate(194.9,643.6) scale(1.0,1)" text-anchor="middle" fill="#000" >10</text>
<text transform="translate(307.1,643.6) scale(1.0,1)" text-anchor="middle" fill="#000" >20</text>
<text transform="translate(419.4,643.6) scale(1.0,1)" text-anchor="middle" fill="#000" >30</text>
<text transform="translate(531.6,643.6) scale(1.0,1)" text-anchor="middle" fill="#000" >40</text>
<text transform="translate(643.9,643.6) scale(1.0,1)" text-anchor="middle" fill="#000" >50</text>
<text transform="translate(335.0,672.3) scale(1.0,1)" text-anchor="start" fill="#000" >time [minutes]</text>
<text transform="translate(21.0,545.8) rotate(-90) scale(1.0,1)" text-anchor="start" fill="#000" >normalized</text>
<text transform="translate(21.0,417.9) rotate(-90) scale(1.0,1)" text-anchor="start" fill="#000" >AIA</text>
<text transform="translate(21.0,363.6) rotate(-90) scale(1.0,1)" text-anchor="start" fill="#000" >counts</text>
<text transform="translate(21.0,170.9) rotate(-90) scale(1.0,1)" text-anchor="start" fill="#000" >log</text>
<text transform="translate(21.0,130.0) rotate(-90) scale(1.0,1)" text-anchor="start" fill="#000" >T</text>
<text transform="translate(21.0,100.3) rotate(-90) scale(1.0,1)" text-anchor="start" fill="#000" >[</text>
<text transform="translate(21.0,85.1) rotate(-90) scale(1.0,1)" text-anchor="start" fill="#000" >K</text>
<text transform="translate(21.0,57.6) rotate(-90) scale(1.0,1)" text-anchor="start" fill="#000" >]</text>
<text transform="translate(220.9,30.6) scale(1.0,1)" text-anchor="start" fill="#ff0000" >6.2</text>
<text transform="translate(325.2,55.1) scale(1.0,1)" text-anchor="start" fill="#008e00" >5.9</text>
<text transform="translate(382.1,72.8) scale(1.0,1)" text-anchor="start" fill="#0000ff" >5.7</text>
<text transform="translate(583.3,145.6) scale(1.0,1)" text-anchor="start" fill="#000" >4.9</text>
<text transform="translate(115.8,326.6) scale(1.0,1)" text-anchor="start" fill="#ff0000" >193</text>
<text transform="translate(115.8,399.6) scale(1.0,1)" text-anchor="start" fill="#008e00" >171</text>
<text transform="translate(115.8,552.6) scale(1.0,1)" text-anchor="start" fill="#0000ff" >131</text>
<text transform="translate(382.0,576.4) scale(1.0,1)" text-anchor="start" fill="#000" >304</text>
</g>
</svg>
</body></html>
